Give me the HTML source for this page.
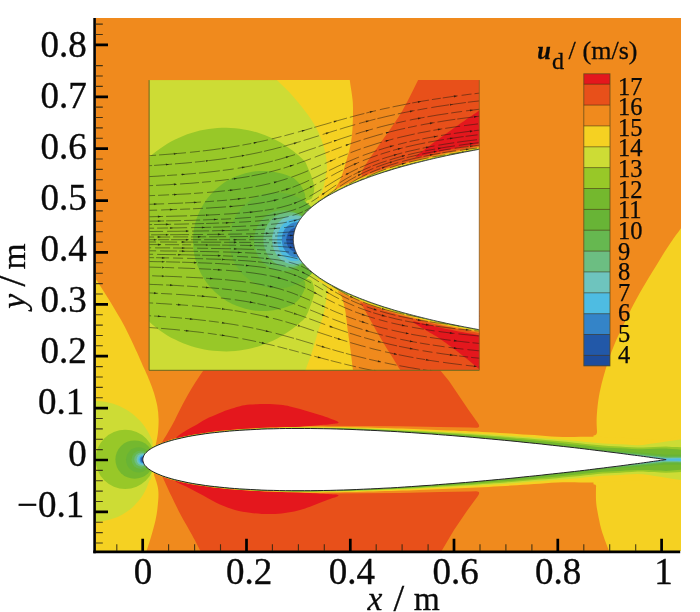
<!DOCTYPE html><html><head><meta charset="utf-8"><title>u_d contour</title><style>html,body{margin:0;padding:0;background:#fff;}body{width:700px;height:612px;overflow:hidden;font-family:"Liberation Serif",serif;}svg{display:block;will-change:transform;}</style></head><body><svg width="700" height="612" viewBox="0 0 700 612"><defs><clipPath id="cpMain"><rect x="95.7" y="18" width="585.3" height="533"/></clipPath><clipPath id="cpIn"><rect x="149.1" y="80.1" width="330.2" height="290.2"/></clipPath></defs><g clip-path="url(#cpMain)">
<rect x="95.7" y="18" width="585.3" height="533" fill="#F08A1D"/>
<path fill="#F5D122" d="M681.5 227.5 C680 229.6 675.3 235.9 672.5 240 C669.7 244.1 667.2 247.7 664.5 252 C661.8 256.3 658.8 261.5 656 266 C653.2 270.5 650.6 274.7 648 279 C645.4 283.3 642.8 287.5 640.3 292 C637.8 296.5 635.1 301.3 632.7 306 C630.3 310.7 627.9 315.7 625.8 320 C623.7 324.3 621.9 328 620 332 C618.1 336 616.5 339.3 614.6 344 C612.7 348.7 610.5 354 608.5 360 C606.5 366 604.2 374 602.6 380 C601 386 599.9 391 599 396 C598.1 401 597.6 405.7 597.2 410 C596.8 414.3 596.6 418.5 596.6 422 C596.6 425.5 596.9 429.5 597 431 Q597.4 435.2 593.5 435.6 L593.5 484.2 Q596.8 484.4 596 487 C596 489.2 595.8 496 596 500 C596.2 504 596.5 506 597.4 511 C598.3 516 599.6 523.3 601.5 530 C603.4 536.7 607.8 547.5 609 551 L681 551 Z"/>
<path fill="#F5D122" d="M95 277.8 C96.8 280.6 101.3 287.3 105.7 294.4 C110.1 301.5 116.6 311.9 121.4 320.6 C126.2 329.3 130.5 338.4 134.4 346.7 C138.3 355 142.4 364.5 145 370.3 C147.6 376.1 148.3 377.7 149.8 381.5 C151.3 385.3 152.8 388.9 154 393 C155.2 397.1 156.5 401.6 157.3 406 C158.1 410.4 158.5 414.8 158.6 419.2 C158.7 423.6 158.4 428.4 158 432.3 C157.6 436.2 156.7 440.4 156.2 442.7 C155.7 445 155.4 445.4 155.2 446 L154 475 C154.6 476.7 156.6 481.7 157.3 485 C158.1 488.3 158.5 490.8 158.5 494.6 C158.5 498.4 158 503.6 157.5 508 C157 512.4 156.5 515.9 155.4 520.7 C154.3 525.5 152.5 531.8 151 537 C149.5 542.2 147 549.5 146.2 552 L95 552 Z"/>
<path fill="#CDDC35" d="M88 401 C89.3 401 93.5 400.9 96 401 C98.5 401.1 99.7 401 103 401.6 C106.3 402.2 111.6 403.2 116 404.8 C120.4 406.4 125.2 408.8 129.2 411.4 C133.1 414 136.6 417.2 139.7 420.5 C142.8 423.8 145.6 427.9 147.5 431 C149.4 434.1 150.5 436.4 151.4 438.8 C152.3 441.2 152.7 439.2 152.7 445.4 C152.7 451.6 152.1 470.1 151.5 476 C150.9 481.9 150.2 478.5 149.4 480.5 C148.6 482.5 147.6 485.6 146.5 488 C145.4 490.4 144.4 492.4 143 494.7 C141.6 496.9 139.8 499.4 138 501.5 C136.2 503.6 134.4 505.7 132.4 507.5 C130.4 509.3 128.1 510.9 126 512.3 C123.9 513.7 121.9 515 119.7 516 C117.5 517 115.1 517.9 113 518.6 C110.9 519.3 109.2 519.7 107 520.2 C104.8 520.7 102 521.1 100 521.4 C98 521.7 97 521.9 95 522 C93 522.1 89.2 522 88 522Z"/>
<circle cx="125.2" cy="459.4" r="29.6" fill="#98C828"/>
<circle cx="134.6" cy="459.6" r="19.2" fill="#74B82E"/>
<circle cx="138.6" cy="459.8" r="12.6" fill="#68B436"/>
<circle cx="140.7" cy="459.8" r="9.2" fill="#66B850"/>
<circle cx="141.4" cy="459.6" r="7.1" fill="#6CBE82"/>
<circle cx="142.6" cy="459.6" r="6" fill="#6EC4BE"/>
<circle cx="143.2" cy="459.6" r="4.9" fill="#4EBCE2"/>
<circle cx="143.5" cy="459.6" r="3.7" fill="#3484C8"/>
<circle cx="143.8" cy="459.6" r="2.8" fill="#2258A8"/>
<path fill="#E8501A" d="M161 444.5 C161.3 443.9 161.1 444 163 440.8 C164.9 437.6 168.9 431.2 172.2 425.1 C175.5 419 179.2 410.7 182.7 404.2 C186.2 397.7 189.7 391.4 193.1 385.9 C196.5 380.3 199.8 375.7 203 370.9 C206.2 366.1 210.5 359.3 212 357 L436 356 L440 370 L449 381 L468.6 410 L477.5 422.5 Q481.5 427.6 476 427.8 L470 427.6 L440 427.1 L400 426.3 L360 425.9 L320 425.8 L280 426.5 L240 428.7 L200 433.2 L170 439.7 Z"/>
<path fill="#E8501A" d="M161.5 474.5 C161.7 475.1 161.2 474.2 162.9 477.8 C164.6 481.4 168.5 490 171.4 496.1 C174.3 502.2 177 507.8 180.5 514.4 C184 520.9 188.9 529.1 192.3 535.4 C195.7 541.7 199.6 549.2 201 552 L441 552 L454 530 L467.6 510 L477.5 496.5 Q481.5 491.4 476 491.2 L470 491.6 L440 492.1 L400 492.9 L360 493.3 L320 493.4 L280 492.7 L240 490.5 L200 486 L170 479.5 Z"/>
<path fill="#E4171D" d="M176 437.5 C177.7 436.3 182.5 432.7 186 430.5 C189.5 428.3 193.2 426.5 197 424.4 C200.8 422.2 204.8 419.7 209 417.6 C213.2 415.5 218.5 413.4 222.3 411.9 C226.1 410.4 229.1 409.6 232 408.6 C234.9 407.7 237 406.9 240 406.2 C243 405.5 245.7 405 250 404.6 C254.3 404.2 261 404 266 404 C271 404 276 404.4 280 404.8 C284 405.2 286.7 405.7 290 406.4 C293.3 407.1 296.7 408.1 300 409 C303.3 409.9 306.7 411 310 412 C313.3 413 316.7 413.9 320 415 C323.3 416.1 327.3 417.4 330 418.4 C332.7 419.4 334.6 420.1 336 420.8 C337.4 421.5 338.6 421.9 338.6 422.4 C338.6 422.9 337.4 423.3 336 423.6 C334.6 423.9 334.3 423.8 330 424.2 C325.7 424.6 316.7 425.5 310 426 C303.3 426.5 296.7 426.8 290 427.2 C283.3 427.6 276.7 427.9 270 428.4 C263.3 428.9 257.5 429.2 250 430 C242.5 430.8 233.3 431.7 225 433 C216.7 434.3 206.7 436.7 200 438 C193.3 439.3 187.5 440.5 185 441Z"/>
<path fill="#E4171D" d="M171 478.6 C172.1 479.2 175 481.1 177.3 482.4 C179.6 483.6 182.5 484.9 185 486.1 C187.5 487.3 188.9 488 192.3 489.8 C195.7 491.6 200.8 494.3 205.4 496.8 C210 499.3 215.1 502.4 220 504.6 C224.9 506.8 230 508.6 235 510 C240 511.4 245.5 512.1 250 512.8 C254.5 513.4 257.8 513.7 262 513.9 C266.2 514.1 270.7 514.2 275 514 C279.3 513.8 283.8 513.3 288 512.6 C292.2 511.9 296.3 511 300 510 C303.7 509 306.7 508 310 506.8 C313.3 505.6 316.7 504.1 320 502.8 C323.3 501.5 327.3 500 330 499 C332.7 498 334.6 497.6 336 497 C337.4 496.4 338.6 496 338.6 495.6 C338.6 495.2 337.4 494.8 336 494.6 C334.6 494.4 334.3 494.5 330 494.2 C325.7 493.9 316.7 493.4 310 493 C303.3 492.6 296.7 492.4 290 492 C283.3 491.6 276.7 491.3 270 490.8 C263.3 490.3 257.5 490 250 489.2 C242.5 488.4 233.3 487.5 225 486.2 C216.7 484.9 206.7 482.5 200 481.2 C193.3 479.9 187.5 478.7 185 478.2Z"/>
<path fill="#F5D122" d="M150 448.6 L155.7 445.4 L161.5 442.9 L167.2 440.9 L172.9 439.2 L178.7 437.8 L184.4 436.5 L190.1 435.3 L195.9 434.3 L201.6 433.4 L207.3 432.6 L213.1 431.8 L218.8 431.1 L224.5 430.5 L230.3 430 L236 429.5 L241.7 429.1 L247.5 428.7 L253.2 428.4 L258.9 428.1 L264.7 427.8 L270.4 427.6 L276.1 427.4 L281.9 427.2 L287.6 427 L293.3 426.9 L299.1 426.9 L304.8 426.8 L310.5 426.8 L316.3 426.8 L322 426.8 L327.7 426.9 L333.5 427 L339.2 427 L344.9 427.1 L350.7 427.2 L356.4 427.3 L362.1 427.4 L367.9 427.6 L373.6 427.7 L379.3 427.9 L385.1 428.1 L390.8 428.2 L396.5 428.4 L402.3 428.6 L408 428.8 L413.7 429 L419.5 429.3 L425.2 429.5 L430.9 429.7 L436.7 429.9 L442.4 430.2 L448.1 430.4 L453.9 430.6 L459.6 430.9 L465.3 431.1 L471.1 431.4 L476.8 431.6 L482.5 431.9 L488.3 432.3 L494 432.6 L499.7 432.9 L505.5 433.3 L511.2 433.6 L516.9 434 L522.7 434.4 L528.4 434.7 L534.1 435.1 L539.9 435.5 L545.6 435.9 L551.3 436.4 L557.1 436.8 L562.8 437 L568.5 436.9 L574.3 436.9 L580 436.8 L585.7 436.8 L591.5 436.8 L597.2 436.8 L602.9 436.9 L608.7 437.2 L614.4 437.5 L620.1 437.8 L625.9 438.1 L631.6 438.5 L637.3 438.8 L643.1 439.1 L648.8 439.5 L654.5 439.8 L660.3 440.2 L666 440.6 L672 438.7 L677 437.1 L681.5 435.6 L681.5 483.8 L677 482.3 L672 480.7 L666 478.8 L660.3 479 L654.5 479.4 L648.8 479.7 L643.1 480.1 L637.3 480.4 L631.6 480.7 L625.9 481.1 L620.1 481.4 L614.4 481.7 L608.7 482 L602.9 482.3 L597.2 482.4 L591.5 482.4 L585.7 482.4 L580 482.4 L574.3 482.3 L568.5 482.3 L562.8 482.2 L557.1 482.4 L551.3 482.8 L545.6 483.3 L539.9 483.7 L534.1 484.1 L528.4 484.5 L522.7 484.8 L516.9 485.2 L511.2 485.6 L505.5 485.9 L499.7 486.3 L494 486.6 L488.3 486.9 L482.5 487.3 L476.8 487.6 L471.1 487.8 L465.3 488.1 L459.6 488.3 L453.9 488.6 L448.1 488.8 L442.4 489 L436.7 489.3 L430.9 489.5 L425.2 489.7 L419.5 489.9 L413.7 490.2 L408 490.4 L402.3 490.6 L396.5 490.8 L390.8 491 L385.1 491.1 L379.3 491.3 L373.6 491.5 L367.9 491.6 L362.1 491.8 L356.4 491.9 L350.7 492 L344.9 492.1 L339.2 492.2 L333.5 492.2 L327.7 492.3 L322 492.4 L316.3 492.4 L310.5 492.4 L304.8 492.4 L299.1 492.3 L293.3 492.3 L287.6 492.2 L281.9 492 L276.1 491.8 L270.4 491.6 L264.7 491.4 L258.9 491.1 L253.2 490.8 L247.5 490.5 L241.7 490.1 L236 489.7 L230.3 489.2 L224.5 488.7 L218.8 488.1 L213.1 487.4 L207.3 486.6 L201.6 485.8 L195.9 484.9 L190.1 483.9 L184.4 482.7 L178.7 481.4 L172.9 480 L167.2 478.3 L161.5 476.3 L155.7 473.8 L150 470.6Z"/>
<path fill="#CDDC35" d="M150 448.9 L155.7 445.6 L161.5 443.2 L167.2 441.2 L172.9 439.5 L178.7 438.1 L184.4 436.8 L190.1 435.6 L195.9 434.6 L201.6 433.7 L207.3 432.9 L213.1 432.2 L218.8 431.5 L224.5 430.9 L230.3 430.4 L236 429.9 L241.7 429.5 L247.5 429.1 L253.2 428.8 L258.9 428.5 L264.7 428.2 L270.4 428 L276.1 427.9 L281.9 427.7 L287.6 427.6 L293.3 427.5 L299.1 427.5 L304.8 427.4 L310.5 427.4 L316.3 427.5 L322 427.5 L327.7 427.6 L333.5 427.7 L339.2 427.8 L344.9 427.9 L350.7 428 L356.4 428.2 L362.1 428.3 L367.9 428.5 L373.6 428.7 L379.3 428.9 L385.1 429.1 L390.8 429.3 L396.5 429.6 L402.3 429.8 L408 430 L413.7 430.3 L419.5 430.6 L425.2 430.9 L430.9 431.2 L436.7 431.4 L442.4 431.7 L448.1 432 L453.9 432.3 L459.6 432.6 L465.3 432.9 L471.1 433.2 L476.8 433.5 L482.5 433.9 L488.3 434.2 L494 434.6 L499.7 435 L505.5 435.4 L511.2 435.8 L516.9 436.3 L522.7 436.7 L528.4 437.1 L534.1 437.6 L539.9 438 L545.6 438.4 L551.3 438.9 L557.1 439.4 L562.8 439.8 L568.5 440.3 L574.3 440.8 L580 441.3 L585.7 441.9 L591.5 442.4 L597.2 442.9 L602.9 443.4 L608.7 443.7 L614.4 444 L620.1 444.3 L625.9 444.6 L631.6 445 L637.3 445.3 L643.1 445 L648.8 444.1 L654.5 443.3 L660.3 442.4 L666 441.6 L672 440.7 L677 440 L681.5 439.3 L681.5 480.1 L677 479.4 L672 478.7 L666 477.8 L660.3 476.8 L654.5 475.9 L648.8 475.1 L643.1 474.2 L637.3 473.9 L631.6 474.2 L625.9 474.6 L620.1 474.9 L614.4 475.2 L608.7 475.5 L602.9 475.8 L597.2 476.3 L591.5 476.8 L585.7 477.3 L580 477.9 L574.3 478.4 L568.5 478.9 L562.8 479.4 L557.1 479.8 L551.3 480.3 L545.6 480.8 L539.9 481.2 L534.1 481.6 L528.4 482.1 L522.7 482.5 L516.9 482.9 L511.2 483.4 L505.5 483.8 L499.7 484.2 L494 484.6 L488.3 485 L482.5 485.3 L476.8 485.7 L471.1 486 L465.3 486.3 L459.6 486.6 L453.9 486.9 L448.1 487.2 L442.4 487.5 L436.7 487.8 L430.9 488 L425.2 488.3 L419.5 488.6 L413.7 488.9 L408 489.2 L402.3 489.4 L396.5 489.6 L390.8 489.9 L385.1 490.1 L379.3 490.3 L373.6 490.5 L367.9 490.7 L362.1 490.9 L356.4 491 L350.7 491.2 L344.9 491.3 L339.2 491.4 L333.5 491.5 L327.7 491.6 L322 491.7 L316.3 491.7 L310.5 491.8 L304.8 491.8 L299.1 491.7 L293.3 491.7 L287.6 491.6 L281.9 491.5 L276.1 491.3 L270.4 491.2 L264.7 491 L258.9 490.7 L253.2 490.4 L247.5 490.1 L241.7 489.7 L236 489.3 L230.3 488.8 L224.5 488.3 L218.8 487.7 L213.1 487 L207.3 486.3 L201.6 485.5 L195.9 484.6 L190.1 483.6 L184.4 482.4 L178.7 481.1 L172.9 479.7 L167.2 478 L161.5 476 L155.7 473.6 L150 470.3Z"/>
<path fill="#98C828" d="M150 449 L155.7 445.8 L161.5 443.4 L167.2 441.4 L172.9 439.7 L178.7 438.2 L184.4 436.9 L190.1 435.8 L195.9 434.8 L201.6 433.9 L207.3 433.1 L213.1 432.3 L218.8 431.7 L224.5 431.1 L230.3 430.6 L236 430.1 L241.7 429.7 L247.5 429.3 L253.2 429 L258.9 428.7 L264.7 428.5 L270.4 428.3 L276.1 428.1 L281.9 428 L287.6 427.9 L293.3 427.8 L299.1 427.7 L304.8 427.7 L310.5 427.7 L316.3 427.8 L322 427.9 L327.7 427.9 L333.5 428 L339.2 428.1 L344.9 428.3 L350.7 428.4 L356.4 428.6 L362.1 428.8 L367.9 429 L373.6 429.2 L379.3 429.4 L385.1 429.7 L390.8 429.9 L396.5 430.2 L402.3 430.4 L408 430.7 L413.7 431 L419.5 431.3 L425.2 431.6 L430.9 432 L436.7 432.3 L442.4 432.6 L448.1 432.9 L453.9 433.2 L459.6 433.6 L465.3 433.9 L471.1 434.3 L476.8 434.7 L482.5 435.1 L488.3 435.5 L494 435.9 L499.7 436.3 L505.5 436.8 L511.2 437.2 L516.9 437.7 L522.7 438.1 L528.4 438.6 L534.1 439.1 L539.9 439.6 L545.6 440 L551.3 440.5 L557.1 441 L562.8 441.6 L568.5 442.1 L574.3 442.7 L580 443.3 L585.7 443.9 L591.5 444.5 L597.2 445.1 L602.9 445.6 L608.7 445.9 L614.4 446.2 L620.1 446.5 L625.9 446.9 L631.6 447.2 L637.3 447.6 L643.1 447.6 L648.8 447.3 L654.5 447.1 L660.3 446.8 L666 446.6 L672 446.9 L677 447.1 L681.5 447.3 L681.5 472.1 L677 472.3 L672 472.5 L666 472.8 L660.3 472.4 L654.5 472.1 L648.8 471.9 L643.1 471.6 L637.3 471.6 L631.6 472 L625.9 472.3 L620.1 472.7 L614.4 473 L608.7 473.3 L602.9 473.6 L597.2 474.1 L591.5 474.7 L585.7 475.3 L580 475.9 L574.3 476.5 L568.5 477.1 L562.8 477.6 L557.1 478.2 L551.3 478.7 L545.6 479.2 L539.9 479.6 L534.1 480.1 L528.4 480.6 L522.7 481.1 L516.9 481.5 L511.2 482 L505.5 482.4 L499.7 482.9 L494 483.3 L488.3 483.7 L482.5 484.1 L476.8 484.5 L471.1 484.9 L465.3 485.3 L459.6 485.6 L453.9 486 L448.1 486.3 L442.4 486.6 L436.7 486.9 L430.9 487.2 L425.2 487.6 L419.5 487.9 L413.7 488.2 L408 488.5 L402.3 488.8 L396.5 489 L390.8 489.3 L385.1 489.5 L379.3 489.8 L373.6 490 L367.9 490.2 L362.1 490.4 L356.4 490.6 L350.7 490.8 L344.9 490.9 L339.2 491.1 L333.5 491.2 L327.7 491.3 L322 491.3 L316.3 491.4 L310.5 491.5 L304.8 491.5 L299.1 491.5 L293.3 491.4 L287.6 491.3 L281.9 491.2 L276.1 491.1 L270.4 490.9 L264.7 490.7 L258.9 490.5 L253.2 490.2 L247.5 489.9 L241.7 489.5 L236 489.1 L230.3 488.6 L224.5 488.1 L218.8 487.5 L213.1 486.9 L207.3 486.1 L201.6 485.3 L195.9 484.4 L190.1 483.4 L184.4 482.3 L178.7 481 L172.9 479.5 L167.2 477.8 L161.5 475.8 L155.7 473.4 L150 470.2Z"/>
<path fill="#74B82E" d="M150 449.1 L155.7 445.9 L161.5 443.5 L167.2 441.5 L172.9 439.8 L178.7 438.3 L184.4 437.1 L190.1 435.9 L195.9 434.9 L201.6 434 L207.3 433.2 L213.1 432.5 L218.8 431.8 L224.5 431.2 L230.3 430.7 L236 430.3 L241.7 429.8 L247.5 429.5 L253.2 429.2 L258.9 428.9 L264.7 428.6 L270.4 428.4 L276.1 428.3 L281.9 428.2 L287.6 428.1 L293.3 428 L299.1 428 L304.8 428 L310.5 428 L316.3 428 L322 428.1 L327.7 428.2 L333.5 428.3 L339.2 428.4 L344.9 428.6 L350.7 428.7 L356.4 428.9 L362.1 429.1 L367.9 429.3 L373.6 429.6 L379.3 429.8 L385.1 430.1 L390.8 430.4 L396.5 430.7 L402.3 431 L408 431.3 L413.7 431.6 L419.5 431.9 L425.2 432.3 L430.9 432.7 L436.7 433 L442.4 433.4 L448.1 433.8 L453.9 434.1 L459.6 434.5 L465.3 434.9 L471.1 435.3 L476.8 435.8 L482.5 436.2 L488.3 436.6 L494 437.1 L499.7 437.6 L505.5 438 L511.2 438.5 L516.9 439 L522.7 439.5 L528.4 440 L534.1 440.5 L539.9 441.1 L545.6 441.6 L551.3 442.1 L557.1 442.7 L562.8 443.3 L568.5 443.9 L574.3 444.4 L580 445 L585.7 445.6 L591.5 446.3 L597.2 446.9 L602.9 447.4 L608.7 447.7 L614.4 448 L620.1 448.3 L625.9 448.6 L631.6 449 L637.3 449.3 L643.1 449.3 L648.8 449.1 L654.5 448.8 L660.3 448.6 L666 448.4 L672 448.9 L677 449.3 L681.5 449.7 L681.5 469.7 L677 470.1 L672 470.5 L666 471 L660.3 470.6 L654.5 470.4 L648.8 470.1 L643.1 469.9 L637.3 469.9 L631.6 470.2 L625.9 470.6 L620.1 470.9 L614.4 471.2 L608.7 471.5 L602.9 471.8 L597.2 472.3 L591.5 472.9 L585.7 473.6 L580 474.2 L574.3 474.8 L568.5 475.3 L562.8 475.9 L557.1 476.5 L551.3 477.1 L545.6 477.6 L539.9 478.1 L534.1 478.7 L528.4 479.2 L522.7 479.7 L516.9 480.2 L511.2 480.7 L505.5 481.2 L499.7 481.6 L494 482.1 L488.3 482.6 L482.5 483 L476.8 483.4 L471.1 483.9 L465.3 484.3 L459.6 484.7 L453.9 485.1 L448.1 485.4 L442.4 485.8 L436.7 486.2 L430.9 486.5 L425.2 486.9 L419.5 487.3 L413.7 487.6 L408 487.9 L402.3 488.2 L396.5 488.5 L390.8 488.8 L385.1 489.1 L379.3 489.4 L373.6 489.6 L367.9 489.9 L362.1 490.1 L356.4 490.3 L350.7 490.5 L344.9 490.6 L339.2 490.8 L333.5 490.9 L327.7 491 L322 491.1 L316.3 491.2 L310.5 491.2 L304.8 491.2 L299.1 491.2 L293.3 491.2 L287.6 491.1 L281.9 491 L276.1 490.9 L270.4 490.8 L264.7 490.6 L258.9 490.3 L253.2 490 L247.5 489.7 L241.7 489.4 L236 488.9 L230.3 488.5 L224.5 488 L218.8 487.4 L213.1 486.7 L207.3 486 L201.6 485.2 L195.9 484.3 L190.1 483.3 L184.4 482.1 L178.7 480.9 L172.9 479.4 L167.2 477.7 L161.5 475.7 L155.7 473.3 L150 470.1Z"/>
<path fill="#68B436" d="M480 438 L482.1 438.2 L484.1 438.3 L486.2 438.5 L488.3 438.7 L490.3 438.8 L492.4 439 L494.5 439.2 L496.5 439.4 L498.6 439.5 L500.7 439.7 L502.7 439.9 L504.8 440.1 L506.9 440.3 L508.9 440.4 L511 440.6 L513.1 440.8 L515.1 441 L517.2 441.2 L519.3 441.4 L521.3 441.6 L523.4 441.7 L525.5 441.9 L527.5 442.1 L529.6 442.3 L531.7 442.5 L533.7 442.7 L535.8 442.9 L537.9 443.1 L539.9 443.2 L542 443.4 L544.1 443.6 L546.1 443.8 L548.2 444 L550.3 444.2 L552.3 444.4 L554.4 444.6 L556.5 444.8 L558.5 445 L560.6 445.2 L562.7 445.4 L564.7 445.6 L566.8 445.8 L568.9 446 L570.9 446.2 L573 446.4 L575.1 446.6 L577.1 446.8 L579.2 447 L581.3 447.2 L583.3 447.4 L585.4 447.6 L587.5 447.9 L589.5 448.1 L591.6 448.3 L593.7 448.5 L595.7 448.7 L597.8 449 L599.9 449.2 L601.9 449.4 L604 449.5 L606.1 449.7 L608.1 449.9 L610.2 450.1 L612.3 450.2 L614.3 450.4 L616.4 450.6 L618.5 450.8 L620.5 451 L622.6 451.1 L624.7 451.3 L626.7 451.5 L628.8 451.6 L630.9 451.8 L632.9 452 L635 452.1 L637.1 452.3 L639.1 452.5 L641.2 452.6 L643.3 452.8 L645.3 453 L647.4 453.1 L649.5 453.3 L651.5 453.4 L653.6 453.6 L655.7 453.8 L657.7 453.9 L659.8 454.1 L661.9 454.2 L663.9 454.4 L666 454.6 L672 454.6 L677 454.6 L681.5 454.6 L681.5 464.8 L677 464.8 L672 464.8 L666 464.8 L663.9 464.8 L661.9 465 L659.8 465.1 L657.7 465.3 L655.7 465.4 L653.6 465.6 L651.5 465.8 L649.5 465.9 L647.4 466.1 L645.3 466.2 L643.3 466.4 L641.2 466.6 L639.1 466.7 L637.1 466.9 L635 467.1 L632.9 467.2 L630.9 467.4 L628.8 467.6 L626.7 467.7 L624.7 467.9 L622.6 468.1 L620.5 468.2 L618.5 468.4 L616.4 468.6 L614.3 468.8 L612.3 469 L610.2 469.1 L608.1 469.3 L606.1 469.5 L604 469.7 L601.9 469.8 L599.9 470 L597.8 470.2 L595.7 470.5 L593.7 470.7 L591.6 470.9 L589.5 471.1 L587.5 471.3 L585.4 471.6 L583.3 471.8 L581.3 472 L579.2 472.2 L577.1 472.4 L575.1 472.6 L573 472.8 L570.9 473 L568.9 473.2 L566.8 473.4 L564.7 473.6 L562.7 473.8 L560.6 474 L558.5 474.2 L556.5 474.4 L554.4 474.6 L552.3 474.8 L550.3 475 L548.2 475.2 L546.1 475.4 L544.1 475.6 L542 475.8 L539.9 476 L537.9 476.1 L535.8 476.3 L533.7 476.5 L531.7 476.7 L529.6 476.9 L527.5 477.1 L525.5 477.3 L523.4 477.5 L521.3 477.6 L519.3 477.8 L517.2 478 L515.1 478.2 L513.1 478.4 L511 478.6 L508.9 478.8 L506.9 478.9 L504.8 479.1 L502.7 479.3 L500.7 479.5 L498.6 479.7 L496.5 479.8 L494.5 480 L492.4 480.2 L490.3 480.4 L488.3 480.5 L486.2 480.7 L484.1 480.9 L482.1 481 L480 481.2Z"/>
<path fill="#66B850" d="M560 446.1 L561.2 446.2 L562.4 446.3 L563.5 446.4 L564.7 446.6 L565.9 446.7 L567.1 446.8 L568.2 446.9 L569.4 447 L570.6 447.1 L571.8 447.3 L573 447.4 L574.1 447.5 L575.3 447.6 L576.5 447.7 L577.7 447.9 L578.8 448 L580 448.1 L581.2 448.2 L582.4 448.3 L583.6 448.5 L584.7 448.6 L585.9 448.7 L587.1 448.8 L588.3 448.9 L589.4 449.1 L590.6 449.2 L591.8 449.3 L593 449.4 L594.2 449.6 L595.3 449.7 L596.5 449.8 L597.7 449.9 L598.9 450.1 L600 450.2 L601.2 450.3 L602.4 450.4 L603.6 450.5 L604.8 450.6 L605.9 450.7 L607.1 450.8 L608.3 450.9 L609.5 451 L610.6 451.1 L611.8 451.3 L613 451.4 L614.2 451.5 L615.4 451.6 L616.5 451.7 L617.7 451.8 L618.9 451.9 L620.1 452 L621.2 452.1 L622.4 452.2 L623.6 452.3 L624.8 452.4 L626 452.5 L627.1 452.6 L628.3 452.7 L629.5 452.8 L630.7 452.9 L631.8 453 L633 453.1 L634.2 453.2 L635.4 453.3 L636.6 453.4 L637.7 453.6 L638.9 453.7 L640.1 453.8 L641.3 453.9 L642.4 454 L643.6 454.1 L644.8 454.2 L646 454.3 L647.2 454.5 L648.3 454.6 L649.5 454.7 L650.7 454.8 L651.9 454.9 L653 455 L654.2 455.2 L655.4 455.3 L656.6 455.4 L657.8 455.5 L658.9 455.6 L660.1 455.8 L661.3 455.9 L662.5 456 L663.6 456.1 L664.8 456.3 L666 456.4 L672 456.3 L677 456.3 L681.5 456.2 L681.5 463.2 L677 463.1 L672 463.1 L666 463 L664.8 463 L663.6 463.1 L662.5 463.2 L661.3 463.3 L660.1 463.4 L658.9 463.6 L657.8 463.7 L656.6 463.8 L655.4 463.9 L654.2 464 L653 464.2 L651.9 464.3 L650.7 464.4 L649.5 464.5 L648.3 464.6 L647.2 464.7 L646 464.9 L644.8 465 L643.6 465.1 L642.4 465.2 L641.3 465.3 L640.1 465.4 L638.9 465.5 L637.7 465.6 L636.6 465.8 L635.4 465.9 L634.2 466 L633 466.1 L631.8 466.2 L630.7 466.3 L629.5 466.4 L628.3 466.5 L627.1 466.6 L626 466.7 L624.8 466.8 L623.6 466.9 L622.4 467 L621.2 467.1 L620.1 467.2 L618.9 467.3 L617.7 467.4 L616.5 467.5 L615.4 467.6 L614.2 467.7 L613 467.8 L611.8 467.9 L610.6 468.1 L609.5 468.2 L608.3 468.3 L607.1 468.4 L605.9 468.5 L604.8 468.6 L603.6 468.7 L602.4 468.8 L601.2 468.9 L600 469 L598.9 469.1 L597.7 469.3 L596.5 469.4 L595.3 469.5 L594.2 469.6 L593 469.8 L591.8 469.9 L590.6 470 L589.4 470.1 L588.3 470.3 L587.1 470.4 L585.9 470.5 L584.7 470.6 L583.6 470.7 L582.4 470.9 L581.2 471 L580 471.1 L578.8 471.2 L577.7 471.3 L576.5 471.5 L575.3 471.6 L574.1 471.7 L573 471.8 L571.8 471.9 L570.6 472.1 L569.4 472.2 L568.2 472.3 L567.1 472.4 L565.9 472.5 L564.7 472.6 L563.5 472.8 L562.4 472.9 L561.2 473 L560 473.1Z"/>
<path fill="#6CBE82" d="M600 450.8 L600.7 450.9 L601.5 450.9 L602.2 451 L602.9 451.1 L603.7 451.2 L604.4 451.3 L605.1 451.3 L605.9 451.4 L606.6 451.5 L607.3 451.6 L608.1 451.6 L608.8 451.7 L609.5 451.8 L610.3 451.9 L611 451.9 L611.7 452 L612.5 452.1 L613.2 452.2 L613.9 452.3 L614.7 452.3 L615.4 452.4 L616.1 452.5 L616.9 452.6 L617.6 452.7 L618.3 452.7 L619.1 452.8 L619.8 452.9 L620.5 453 L621.3 453 L622 453.1 L622.7 453.2 L623.5 453.2 L624.2 453.3 L624.9 453.4 L625.7 453.4 L626.4 453.5 L627.1 453.6 L627.9 453.6 L628.6 453.7 L629.3 453.8 L630.1 453.8 L630.8 453.9 L631.5 454 L632.3 454 L633 454.1 L633.7 454.2 L634.5 454.2 L635.2 454.3 L635.9 454.4 L636.7 454.4 L637.4 454.5 L638.1 454.6 L638.9 454.6 L639.6 454.7 L640.3 454.8 L641.1 454.9 L641.8 454.9 L642.5 455 L643.3 455.1 L644 455.1 L644.7 455.2 L645.5 455.3 L646.2 455.4 L646.9 455.4 L647.7 455.5 L648.4 455.6 L649.1 455.7 L649.9 455.7 L650.6 455.8 L651.3 455.9 L652.1 455.9 L652.8 456 L653.5 456.1 L654.3 456.2 L655 456.2 L655.7 456.3 L656.5 456.4 L657.2 456.5 L657.9 456.5 L658.7 456.6 L659.4 456.7 L660.1 456.8 L660.9 456.8 L661.6 456.9 L662.3 457 L663.1 457.1 L663.8 457.2 L664.5 457.2 L665.3 457.3 L666 457.4 L672 457.3 L677 457.3 L681.5 457.2 L681.5 462.2 L677 462.1 L672 462.1 L666 462 L665.3 462 L664.5 462 L663.8 462 L663.1 462.1 L662.3 462.2 L661.6 462.3 L660.9 462.4 L660.1 462.4 L659.4 462.5 L658.7 462.6 L657.9 462.7 L657.2 462.7 L656.5 462.8 L655.7 462.9 L655 463 L654.3 463 L653.5 463.1 L652.8 463.2 L652.1 463.3 L651.3 463.3 L650.6 463.4 L649.9 463.5 L649.1 463.5 L648.4 463.6 L647.7 463.7 L646.9 463.8 L646.2 463.8 L645.5 463.9 L644.7 464 L644 464.1 L643.3 464.1 L642.5 464.2 L641.8 464.3 L641.1 464.3 L640.3 464.4 L639.6 464.5 L638.9 464.6 L638.1 464.6 L637.4 464.7 L636.7 464.8 L635.9 464.8 L635.2 464.9 L634.5 465 L633.7 465 L633 465.1 L632.3 465.2 L631.5 465.2 L630.8 465.3 L630.1 465.4 L629.3 465.4 L628.6 465.5 L627.9 465.6 L627.1 465.6 L626.4 465.7 L625.7 465.8 L624.9 465.8 L624.2 465.9 L623.5 466 L622.7 466 L622 466.1 L621.3 466.2 L620.5 466.2 L619.8 466.3 L619.1 466.4 L618.3 466.5 L617.6 466.5 L616.9 466.6 L616.1 466.7 L615.4 466.8 L614.7 466.9 L613.9 466.9 L613.2 467 L612.5 467.1 L611.7 467.2 L611 467.3 L610.3 467.3 L609.5 467.4 L608.8 467.5 L608.1 467.6 L607.3 467.6 L606.6 467.7 L605.9 467.8 L605.1 467.9 L604.4 467.9 L603.7 468 L602.9 468.1 L602.2 468.2 L601.5 468.3 L600.7 468.3 L600 468.4Z"/>
<path fill="#6EC4BE" d="M620 453.3 L620.5 453.4 L621 453.4 L621.5 453.5 L622 453.5 L622.6 453.6 L623.1 453.6 L623.6 453.7 L624.1 453.7 L624.6 453.8 L625.1 453.8 L625.6 453.9 L626.1 454 L626.6 454 L627.2 454.1 L627.7 454.1 L628.2 454.2 L628.7 454.2 L629.2 454.3 L629.7 454.3 L630.2 454.4 L630.7 454.4 L631.2 454.5 L631.8 454.6 L632.3 454.6 L632.8 454.7 L633.3 454.7 L633.8 454.8 L634.3 454.8 L634.8 454.9 L635.3 454.9 L635.8 455 L636.4 455.1 L636.9 455.1 L637.4 455.2 L637.9 455.2 L638.4 455.3 L638.9 455.3 L639.4 455.4 L639.9 455.4 L640.4 455.5 L641 455.6 L641.5 455.6 L642 455.7 L642.5 455.7 L643 455.8 L643.5 455.8 L644 455.9 L644.5 455.9 L645 456 L645.6 456 L646.1 456.1 L646.6 456.1 L647.1 456.2 L647.6 456.2 L648.1 456.3 L648.6 456.3 L649.1 456.4 L649.6 456.4 L650.2 456.5 L650.7 456.5 L651.2 456.6 L651.7 456.7 L652.2 456.7 L652.7 456.8 L653.2 456.8 L653.7 456.9 L654.2 456.9 L654.8 457 L655.3 457 L655.8 457.1 L656.3 457.1 L656.8 457.2 L657.3 457.2 L657.8 457.3 L658.3 457.4 L658.8 457.4 L659.4 457.5 L659.9 457.5 L660.4 457.6 L660.9 457.6 L661.4 457.7 L661.9 457.7 L662.4 457.8 L662.9 457.9 L663.4 457.9 L664 458 L664.5 458 L665 458.1 L665.5 458.1 L666 458.2 L672 458.1 L677 458.1 L681.5 458 L681.5 461.4 L677 461.3 L672 461.3 L666 461.2 L665.5 461.2 L665 461.2 L664.5 461.2 L664 461.2 L663.4 461.3 L662.9 461.3 L662.4 461.4 L661.9 461.5 L661.4 461.5 L660.9 461.6 L660.4 461.6 L659.9 461.7 L659.4 461.7 L658.8 461.8 L658.3 461.8 L657.8 461.9 L657.3 462 L656.8 462 L656.3 462.1 L655.8 462.1 L655.3 462.2 L654.8 462.2 L654.2 462.3 L653.7 462.3 L653.2 462.4 L652.7 462.4 L652.2 462.5 L651.7 462.5 L651.2 462.6 L650.7 462.7 L650.2 462.7 L649.6 462.8 L649.1 462.8 L648.6 462.9 L648.1 462.9 L647.6 463 L647.1 463 L646.6 463.1 L646.1 463.1 L645.6 463.2 L645 463.2 L644.5 463.3 L644 463.3 L643.5 463.4 L643 463.4 L642.5 463.5 L642 463.5 L641.5 463.6 L641 463.6 L640.4 463.7 L639.9 463.8 L639.4 463.8 L638.9 463.9 L638.4 463.9 L637.9 464 L637.4 464 L636.9 464.1 L636.4 464.1 L635.8 464.2 L635.3 464.3 L634.8 464.3 L634.3 464.4 L633.8 464.4 L633.3 464.5 L632.8 464.5 L632.3 464.6 L631.8 464.6 L631.2 464.7 L630.7 464.8 L630.2 464.8 L629.7 464.9 L629.2 464.9 L628.7 465 L628.2 465 L627.7 465.1 L627.2 465.1 L626.6 465.2 L626.1 465.2 L625.6 465.3 L625.1 465.4 L624.6 465.4 L624.1 465.5 L623.6 465.5 L623.1 465.6 L622.6 465.6 L622 465.7 L621.5 465.7 L621 465.8 L620.5 465.8 L620 465.9Z"/>
<path fill="#4EBCE2" d="M620 453.3 L620.5 453.4 L621 453.4 L621.5 453.5 L622 453.6 L622.6 453.6 L623.1 453.7 L623.6 453.8 L624.1 453.8 L624.6 453.9 L625.1 454 L625.6 454 L626.1 454.1 L626.6 454.1 L627.2 454.2 L627.7 454.3 L628.2 454.3 L628.7 454.4 L629.2 454.5 L629.7 454.5 L630.2 454.6 L630.7 454.7 L631.2 454.7 L631.8 454.8 L632.3 454.9 L632.8 454.9 L633.3 455 L633.8 455.1 L634.3 455.1 L634.8 455.2 L635.3 455.3 L635.8 455.3 L636.4 455.4 L636.9 455.4 L637.4 455.5 L637.9 455.6 L638.4 455.6 L638.9 455.7 L639.4 455.8 L639.9 455.8 L640.4 455.9 L641 456 L641.5 456 L642 456.1 L642.5 456.1 L643 456.2 L643.5 456.2 L644 456.3 L644.5 456.4 L645 456.4 L645.6 456.5 L646.1 456.5 L646.6 456.6 L647.1 456.6 L647.6 456.7 L648.1 456.7 L648.6 456.8 L649.1 456.9 L649.6 456.9 L650.2 457 L650.7 457 L651.2 457.1 L651.7 457.1 L652.2 457.2 L652.7 457.3 L653.2 457.3 L653.7 457.4 L654.2 457.4 L654.8 457.5 L655.3 457.5 L655.8 457.6 L656.3 457.7 L656.8 457.7 L657.3 457.8 L657.8 457.8 L658.3 457.9 L658.8 458 L659.4 458 L659.9 458.1 L660.4 458.1 L660.9 458.2 L661.4 458.3 L661.9 458.3 L662.4 458.4 L662.9 458.4 L663.4 458.5 L664 458.5 L664.5 458.6 L665 458.7 L665.5 458.7 L666 458.8 L672 458.7 L677 458.6 L681.5 458.5 L681.5 460.9 L677 460.8 L672 460.7 L666 460.6 L665.5 460.6 L665 460.6 L664.5 460.6 L664 460.7 L663.4 460.7 L662.9 460.8 L662.4 460.8 L661.9 460.9 L661.4 460.9 L660.9 461 L660.4 461.1 L659.9 461.1 L659.4 461.2 L658.8 461.2 L658.3 461.3 L657.8 461.4 L657.3 461.4 L656.8 461.5 L656.3 461.5 L655.8 461.6 L655.3 461.7 L654.8 461.7 L654.2 461.8 L653.7 461.8 L653.2 461.9 L652.7 461.9 L652.2 462 L651.7 462.1 L651.2 462.1 L650.7 462.2 L650.2 462.2 L649.6 462.3 L649.1 462.3 L648.6 462.4 L648.1 462.5 L647.6 462.5 L647.1 462.6 L646.6 462.6 L646.1 462.7 L645.6 462.7 L645 462.8 L644.5 462.8 L644 462.9 L643.5 463 L643 463 L642.5 463.1 L642 463.1 L641.5 463.2 L641 463.2 L640.4 463.3 L639.9 463.4 L639.4 463.4 L638.9 463.5 L638.4 463.6 L637.9 463.6 L637.4 463.7 L636.9 463.8 L636.4 463.8 L635.8 463.9 L635.3 463.9 L634.8 464 L634.3 464.1 L633.8 464.1 L633.3 464.2 L632.8 464.3 L632.3 464.3 L631.8 464.4 L631.2 464.5 L630.7 464.5 L630.2 464.6 L629.7 464.7 L629.2 464.7 L628.7 464.8 L628.2 464.9 L627.7 464.9 L627.2 465 L626.6 465.1 L626.1 465.1 L625.6 465.2 L625.1 465.2 L624.6 465.3 L624.1 465.4 L623.6 465.4 L623.1 465.5 L622.6 465.6 L622 465.6 L621.5 465.7 L621 465.8 L620.5 465.8 L620 465.9Z"/>
<path fill="#fff" stroke="#222" stroke-width="1" stroke-linejoin="round" d="M142.8 459.6 L142.9 458.4 L143.2 457.2 L143.6 456 L144.2 454.9 L145 453.7 L146 452.6 L147.2 451.5 L148.5 450.4 L150 449.3 L151.7 448.2 L153.6 447.2 L155.6 446.2 L157.8 445.2 L160.2 444.2 L162.7 443.2 L165.4 442.3 L168.3 441.4 L171.3 440.5 L174.5 439.6 L177.9 438.8 L181.4 438 L185 437.2 L188.8 436.4 L192.8 435.7 L196.9 435 L201.1 434.4 L205.5 433.7 L210 433.1 L214.7 432.6 L219.4 432.1 L224.3 431.6 L229.4 431.1 L234.5 430.7 L239.8 430.3 L245.2 430 L250.7 429.7 L256.2 429.4 L261.9 429.1 L267.7 428.9 L273.6 428.8 L279.6 428.6 L285.7 428.5 L291.8 428.5 L298 428.5 L304.3 428.5 L310.7 428.5 L317.1 428.6 L323.6 428.7 L330.1 428.8 L336.7 429 L343.4 429.2 L350 429.4 L356.8 429.7 L363.5 430 L370.3 430.3 L377.1 430.6 L383.9 431 L390.8 431.3 L397.6 431.7 L404.4 432.2 L411.3 432.6 L418.1 433.1 L425 433.6 L431.8 434 L438.6 434.6 L445.4 435.1 L452.1 435.6 L458.9 436.2 L465.5 436.7 L472.2 437.3 L478.8 437.9 L485.3 438.5 L491.8 439.1 L498.2 439.7 L504.6 440.3 L510.9 440.9 L517.1 441.5 L523.2 442.2 L529.3 442.8 L535.3 443.4 L541.2 444 L547 444.7 L552.7 445.3 L558.2 445.9 L563.7 446.5 L569.1 447.1 L574.4 447.7 L579.5 448.3 L584.6 448.9 L589.5 449.5 L594.2 450.1 L598.9 450.7 L603.4 451.2 L607.8 451.8 L612 452.3 L616.1 452.8 L620.1 453.3 L623.9 453.8 L627.5 454.3 L631 454.8 L634.4 455.2 L637.6 455.6 L640.6 456 L643.5 456.4 L646.2 456.8 L648.7 457.1 L651.1 457.5 L653.3 457.8 L655.3 458.1 L657.2 458.3 L658.9 458.6 L660.4 458.8 L661.7 459 L662.9 459.1 L663.9 459.3 L664.7 459.4 L665.3 459.5 L665.7 459.5 L666 459.6 L666.1 459.6 L666.1 459.6 L666 459.6 L665.7 459.7 L665.3 459.7 L664.7 459.8 L663.9 459.9 L662.9 460.1 L661.7 460.2 L660.4 460.4 L658.9 460.6 L657.2 460.9 L655.3 461.1 L653.3 461.4 L651.1 461.7 L648.7 462.1 L646.2 462.4 L643.5 462.8 L640.6 463.2 L637.6 463.6 L634.4 464 L631 464.4 L627.5 464.9 L623.9 465.4 L620.1 465.9 L616.1 466.4 L612 466.9 L607.8 467.4 L603.4 468 L598.9 468.5 L594.2 469.1 L589.5 469.7 L584.6 470.3 L579.5 470.9 L574.4 471.5 L569.1 472.1 L563.7 472.7 L558.2 473.3 L552.7 473.9 L547 474.5 L541.2 475.2 L535.3 475.8 L529.3 476.4 L523.2 477 L517.1 477.7 L510.9 478.3 L504.6 478.9 L498.2 479.5 L491.8 480.1 L485.3 480.7 L478.8 481.3 L472.2 481.9 L465.5 482.5 L458.9 483 L452.1 483.6 L445.4 484.1 L438.6 484.6 L431.8 485.2 L425 485.6 L418.1 486.1 L411.3 486.6 L404.4 487 L397.6 487.5 L390.8 487.9 L383.9 488.2 L377.1 488.6 L370.3 488.9 L363.5 489.2 L356.8 489.5 L350 489.8 L343.4 490 L336.7 490.2 L330.1 490.4 L323.6 490.5 L317.1 490.6 L310.7 490.7 L304.3 490.7 L298 490.7 L291.8 490.7 L285.7 490.7 L279.6 490.6 L273.6 490.4 L267.7 490.3 L261.9 490.1 L256.2 489.8 L250.7 489.5 L245.2 489.2 L239.8 488.9 L234.5 488.5 L229.4 488.1 L224.3 487.6 L219.4 487.1 L214.7 486.6 L210 486.1 L205.5 485.5 L201.1 484.8 L196.9 484.2 L192.8 483.5 L188.8 482.8 L185 482 L181.4 481.2 L177.9 480.4 L174.5 479.6 L171.3 478.7 L168.3 477.8 L165.4 476.9 L162.7 476 L160.2 475 L157.8 474 L155.6 473 L153.6 472 L151.7 471 L150 469.9 L148.5 468.8 L147.2 467.7 L146 466.6 L145 465.5 L144.2 464.3 L143.6 463.2 L143.2 462 L142.9 460.8 L142.8 459.6Z"/>
</g>
<g clip-path="url(#cpIn)">
<rect x="149.1" y="80.1" width="330.2" height="290.2" fill="#CDDC35"/>
<path fill="#F5D122" d="M272 74 C272.8 75 273.7 76.8 276.8 80 C279.9 83.2 285.8 88.3 290.5 93.5 C295.2 98.7 301.1 105.9 305 111 C308.9 116.1 311.5 119.8 314 124 C316.5 128.2 318.2 131.6 320 136 C321.8 140.4 323.7 146.2 324.8 150.7 C325.9 155.2 326.5 159.4 326.8 163 C327.1 166.6 326.9 168.8 326.4 172.5 C325.9 176.2 324.8 181.7 324 185 C323.2 188.3 323 190.3 321.7 192.6 C320.4 194.9 316.9 197.9 316 199 L340 215 L380 180 L380 70 Z"/>
<path fill="#F5D122" d="M316 280 C317 280.5 320.2 281.7 322 283 C323.8 284.3 326.6 283.5 327 288 C327.4 292.5 325.8 303.2 324.5 310 C323.2 316.8 321.1 321.6 319 328.6 C316.9 335.6 314.3 345.1 312 352 C309.7 358.9 306.9 366.3 305.4 370.3 C303.9 374.3 303.4 375.1 303 376 L380 376 L380 300 L340 265 Z"/>
<path fill="#F08A1D" d="M349.4 74 C349.5 75 349.3 75.9 349.8 80.2 C350.3 84.5 352.1 94.7 352.6 100 C353.1 105.3 353 107 353 112 C353 117 352.8 124.5 352.4 130 C352 135.5 351.5 140 350.5 145 C349.5 150 348.1 154.7 346.6 160 C345.1 165.3 343 172.6 341.3 177 C339.6 181.4 337.9 184 336.5 186.5 C335.1 189 333.6 191.1 333 192 L350 215 L430 180 L430 70 Z"/>
<path fill="#F08A1D" d="M338 292 C338.7 292.9 340.8 294.1 342 297.4 C343.2 300.7 344.6 306.8 345.5 312 C346.4 317.2 346.7 322.3 347.5 328.6 C348.3 334.9 349.6 343.1 350.5 350 C351.4 356.9 352.4 366 353 370.3 C353.6 374.6 353.8 375.1 354 376 L430 376 L430 300 L350 265 Z"/>
<path fill="#E8501A" d="M422 74 C421.3 75 421.2 74.1 418 80.2 C414.8 86.3 408.2 100.7 402.5 110.4 C396.8 120.1 389.8 129.5 383.8 138.3 C377.8 147.1 370.5 157.1 366.7 163 C362.9 168.9 361.9 172.2 361 174 L380 200 L485 200 L485 70 Z"/>
<path fill="#E8501A" d="M360 303 C360.6 303.9 361.8 304.9 363.8 308.2 C365.8 311.5 369.1 317.8 372 323 C374.9 328.2 378.2 334.1 381.4 339.4 C384.6 344.7 387.8 349.9 391 355 C394.2 360.1 398.2 366.8 400.4 370.3 C402.6 373.8 403.4 375.1 404 376 L485 376 L485 280 L380 280 Z"/>
<path fill="#E4171D" d="M485 106.5 C484.1 107.2 483.3 107.7 479.4 110.4 C475.5 113.1 468 118.1 461.4 122.8 C454.8 127.5 446.4 133.4 439.7 138.3 C433 143.2 425.1 149.1 421 152.3 C416.9 155.5 416 156.6 415 157.5 L430 180 L485 180 Z"/>
<path fill="#E4171D" d="M413 322 C413.6 322.4 414.2 322.9 416.7 324.5 C419.2 326.1 423.9 329 428 331.5 C432.1 334 435.2 335.4 441 339.4 C446.8 343.4 456.9 350.9 463 355.7 C469.1 360.5 474.1 364.9 477.8 368 C481.5 371.1 483.8 373 485 374 L485 300 L430 300 Z"/>
<path fill="#98C828" d="M305.4 161.9 C304.4 160.9 301.2 157.8 299 155.8 C296.8 153.9 294.5 152 292.2 150.2 C289.8 148.5 287.4 146.8 284.9 145.2 C282.4 143.6 279.9 142.1 277.3 140.8 C274.7 139.4 272 138.1 269.3 136.9 C266.6 135.8 263.8 134.7 261 133.8 C258.2 132.8 255.4 132 252.6 131.2 C249.7 130.5 246.8 129.9 243.9 129.4 C241 128.9 238.1 128.5 235.1 128.3 C232.2 128 229.2 127.8 226.3 127.8 C223.4 127.8 220.4 127.9 217.5 128.1 C214.5 128.3 211.6 128.6 208.7 129 C205.8 129.4 202.8 130 200 130.6 C197.1 131.3 194.3 132.1 191.4 133 C188.6 133.8 185.9 134.8 183.1 135.9 C180.4 137 177.7 138.3 175.1 139.6 C172.4 140.9 169.8 142.3 167.3 143.8 C164.8 145.4 162.3 147 159.9 148.7 C157.5 150.4 155.2 152.2 152.9 154.1 C150.7 156 148.5 158 146.4 160.1 C144.3 162.2 142.3 164.3 140.4 166.5 C138.4 168.8 136.6 171.1 134.9 173.5 C133.1 175.8 131.5 178.3 129.9 180.8 C128.4 183.3 126.9 185.9 125.6 188.5 C124.2 191.1 123 193.8 121.8 196.5 C120.7 199.2 119.7 202 118.8 204.8 C117.8 207.6 117 210.4 116.3 213.3 C115.6 216.2 115.1 219.1 114.6 222 C114.1 224.9 113.8 227.8 113.5 230.8 C113.3 233.7 113.2 236.7 113.2 239.6 C113.2 242.5 113.3 245.5 113.5 248.4 C113.8 251.4 114.1 254.3 114.6 257.2 C115.1 260.1 115.6 263 116.3 265.9 C117 268.8 117.8 271.6 118.8 274.4 C119.7 277.2 120.7 280 121.8 282.7 C123 285.4 124.2 288.1 125.6 290.7 C126.9 293.3 128.4 295.9 129.9 298.4 C131.5 300.9 133.1 303.4 134.9 305.7 C136.6 308.1 138.4 310.4 140.4 312.7 C142.3 314.9 144.3 317 146.4 319.1 C148.5 321.2 150.7 323.2 152.9 325.1 C155.2 327 157.5 328.8 159.9 330.5 C162.3 332.2 164.8 333.8 167.3 335.4 C169.8 336.9 172.4 338.3 175.1 339.6 C177.7 340.9 180.4 342.2 183.1 343.3 C185.9 344.4 188.6 345.4 191.4 346.2 C194.3 347.1 197.1 347.9 200 348.6 C202.8 349.2 205.8 349.8 208.7 350.2 C211.6 350.6 214.5 350.9 217.5 351.1 C220.4 351.3 223.4 351.4 226.3 351.4 C229.2 351.4 232.2 351.2 235.1 350.9 C238.1 350.7 241 350.3 243.9 349.8 C246.8 349.3 249.7 348.7 252.6 348 C255.4 347.2 258.2 346.4 261 345.4 C263.8 344.5 266.6 343.4 269.3 342.3 C272 341.1 274.7 339.8 277.3 338.4 C279.9 337.1 282.4 335.6 284.9 334 C287.4 332.4 289.8 330.7 292.2 329 C294.5 327.2 296.8 325.3 299 323.4 C301.2 321.4 303.4 320.5 305.4 317.3 C307.4 314.1 309.5 308.4 311 304.2 C312.5 300 314 296 314.2 292.2 C314.4 288.4 313.4 284.2 312 281.2 C310.6 278.2 305 281.1 306 274.2 C307 267.3 318 251.1 318 239.6 C318 228.1 307 211.9 306 205 C305 198.1 310.6 201 312 198 C313.4 195 314.4 190.8 314.2 187 C314 183.2 311.5 177 311 175Z"/>
<path fill="#74B82E" d="M293.7 178.1 C293 177.8 290.8 176.8 289.4 176.2 C287.9 175.6 286.4 175 284.9 174.5 C283.4 174 281.9 173.6 280.4 173.2 C278.9 172.8 277.3 172.5 275.8 172.2 C274.2 171.9 272.7 171.7 271.1 171.5 C269.6 171.3 268 171.2 266.4 171.1 C264.8 171 263.3 171 261.7 171 C260.1 171 258.5 171.1 257 171.3 C255.4 171.4 253.8 171.6 252.3 171.8 C250.7 172.1 249.2 172.4 247.7 172.7 C246.1 173 244.6 173.4 243.1 173.9 C241.6 174.3 240.1 174.8 238.6 175.4 C237.1 175.9 235.7 176.5 234.2 177.2 C232.8 177.8 231.4 178.5 230 179.3 C228.6 180 227.2 180.8 225.9 181.6 C224.6 182.5 223.3 183.4 222 184.3 C220.7 185.2 219.5 186.2 218.3 187.2 C217 188.2 215.9 189.2 214.7 190.3 C213.6 191.4 212.5 192.5 211.4 193.7 C210.4 194.8 209.3 196 208.3 197.3 C207.4 198.5 206.4 199.8 205.5 201.1 C204.6 202.3 203.8 203.7 203 205 C202.1 206.4 201.4 207.7 200.7 209.1 C200 210.5 199.3 212 198.7 213.4 C198 214.9 197.5 216.3 196.9 217.8 C196.4 219.3 196 220.8 195.5 222.3 C195.1 223.8 194.7 225.4 194.4 226.9 C194.1 228.5 193.8 230 193.6 231.6 C193.4 233.1 193.3 234.7 193.2 236.3 C193.1 237.8 193 239.4 193 241 C193 242.6 193.1 244.2 193.2 245.7 C193.3 247.3 193.4 248.9 193.6 250.4 C193.8 252 194.1 253.5 194.4 255.1 C194.7 256.6 195.1 258.2 195.5 259.7 C196 261.2 196.4 262.7 196.9 264.2 C197.5 265.7 198 267.1 198.7 268.6 C199.3 270 200 271.5 200.7 272.9 C201.4 274.3 202.1 275.6 203 277 C203.8 278.3 204.6 279.7 205.5 280.9 C206.4 282.2 207.4 283.5 208.3 284.7 C209.3 286 210.4 287.2 211.4 288.3 C212.5 289.5 213.6 290.6 214.7 291.7 C215.9 292.8 217 293.8 218.3 294.8 C219.5 295.8 220.7 296.8 222 297.7 C223.3 298.6 224.6 299.5 225.9 300.4 C227.2 301.2 228.6 302 230 302.7 C231.4 303.5 232.8 304.2 234.2 304.8 C235.7 305.5 237.1 306.1 238.6 306.6 C240.1 307.2 241.6 307.7 243.1 308.1 C244.6 308.6 246.1 309 247.7 309.3 C249.2 309.6 250.7 309.9 252.3 310.2 C253.8 310.4 255.4 310.6 257 310.7 C258.5 310.9 260.1 311 261.7 311 C263.3 311 264.8 311 266.4 310.9 C268 310.8 269.6 310.7 271.1 310.5 C272.7 310.3 274.2 310.1 275.8 309.8 C277.3 309.5 278.9 309.2 280.4 308.8 C281.9 308.4 283.4 308 284.9 307.5 C286.4 307 287.9 306.4 289.4 305.8 C290.8 305.2 291.9 305.2 293.7 303.9 C295.5 302.6 298.2 300.5 300 298 C301.8 295.5 303.8 291.7 304.6 289 C305.4 286.3 305.4 284.3 305 282 C304.6 279.7 300.9 281.8 302.5 275 C304.1 268.2 314.5 252.3 314.5 241 C314.5 229.7 304.1 213.8 302.5 207 C300.9 200.2 304.6 202.3 305 200 C305.4 197.7 305.4 195.7 304.6 193 C303.8 190.3 300.8 185.5 300 184Z"/>
<ellipse cx="277" cy="240.5" rx="48" ry="48" fill="#68B436"/>
<ellipse cx="283.5" cy="240.5" rx="29.5" ry="30.5" fill="#66B850"/>
<ellipse cx="289" cy="239.8" rx="25.7" ry="27.6" fill="#6CBE82"/>
<ellipse cx="294" cy="239.8" rx="21.8" ry="24.6" fill="#6EC4BE"/>
<ellipse cx="294.3" cy="240" rx="17.1" ry="21" fill="#4EBCE2"/>
<ellipse cx="296.7" cy="239.8" rx="14.9" ry="17.6" fill="#3484C8"/>
<ellipse cx="297.8" cy="239.8" rx="11.5" ry="12.6" fill="#2258A8"/>
<ellipse cx="298.4" cy="240" rx="8.6" ry="8" fill="#1E4C9C"/>
<path fill="none" stroke="#E8501A" stroke-width="11" d="M405.8 165.6 L409.6 164.6 L413.4 163.6 L417.3 162.6 L421.3 161.6 L425.3 160.6 L429.4 159.6 L433.6 158.6 L437.8 157.6 L442.1 156.7 L446.4 155.7 L450.8 154.8 L455.3 153.9 L459.8 153 L464.4 152.1 L469.1 151.2 L473.8 150.3 L478.6 149.4 L483.4 148.6 L488.3 147.7 L493.3 146.9"/>
<path fill="none" stroke="#E8501A" stroke-width="11" d="M405.8 313.4 L409.6 314.4 L413.4 315.4 L417.3 316.4 L421.3 317.4 L425.3 318.4 L429.4 319.4 L433.6 320.4 L437.8 321.4 L442.1 322.3 L446.4 323.3 L450.8 324.2 L455.3 325.1 L459.8 326 L464.4 326.9 L469.1 327.8 L473.8 328.7 L478.6 329.6 L483.4 330.4 L488.3 331.3 L493.3 332.1"/>
<path fill="none" stroke="#F08A1D" stroke-width="6.4" d="M345.8 186.6 L348.4 185.4 L351.1 184.3 L353.8 183.1 L356.6 182 L359.4 180.8 L362.3 179.7 L365.3 178.6 L368.3 177.4 L371.4 176.3 L374.6 175.2 L377.8 174.1 L381.1 173 L384.4 171.9 L387.8 170.9 L391.3 169.8 L394.8 168.7 L398.4 167.7 L402.1 166.6 L405.8 165.6 L409.6 164.6 L413.4 163.6 L417.3 162.6 L421.3 161.6 L425.3 160.6 L429.4 159.6 L433.6 158.6 L437.8 157.6 L442.1 156.7 L446.4 155.7 L450.8 154.8 L455.3 153.9 L459.8 153 L464.4 152.1 L469.1 151.2 L473.8 150.3 L478.6 149.4 L483.4 148.6 L488.3 147.7 L493.3 146.9"/>
<path fill="none" stroke="#F08A1D" stroke-width="6.4" d="M345.8 292.4 L348.4 293.6 L351.1 294.7 L353.8 295.9 L356.6 297 L359.4 298.2 L362.3 299.3 L365.3 300.4 L368.3 301.6 L371.4 302.7 L374.6 303.8 L377.8 304.9 L381.1 306 L384.4 307.1 L387.8 308.1 L391.3 309.2 L394.8 310.3 L398.4 311.3 L402.1 312.4 L405.8 313.4 L409.6 314.4 L413.4 315.4 L417.3 316.4 L421.3 317.4 L425.3 318.4 L429.4 319.4 L433.6 320.4 L437.8 321.4 L442.1 322.3 L446.4 323.3 L450.8 324.2 L455.3 325.1 L459.8 326 L464.4 326.9 L469.1 327.8 L473.8 328.7 L478.6 329.6 L483.4 330.4 L488.3 331.3 L493.3 332.1"/>
<path fill="none" stroke="#F5D122" stroke-width="3.8" d="M323.3 198.7 L325.3 197.4 L327.3 196.2 L329.4 195 L331.6 193.8 L333.8 192.6 L336.1 191.4 L338.4 190.2 L340.8 189 L343.3 187.8 L345.8 186.6 L348.4 185.4 L351.1 184.3 L353.8 183.1 L356.6 182 L359.4 180.8 L362.3 179.7 L365.3 178.6 L368.3 177.4 L371.4 176.3 L374.6 175.2 L377.8 174.1 L381.1 173 L384.4 171.9 L387.8 170.9 L391.3 169.8 L394.8 168.7 L398.4 167.7 L402.1 166.6 L405.8 165.6 L409.6 164.6 L413.4 163.6 L417.3 162.6 L421.3 161.6 L425.3 160.6 L429.4 159.6 L433.6 158.6 L437.8 157.6 L442.1 156.7 L446.4 155.7 L450.8 154.8 L455.3 153.9 L459.8 153 L464.4 152.1 L469.1 151.2 L473.8 150.3 L478.6 149.4 L483.4 148.6 L488.3 147.7 L493.3 146.9"/>
<path fill="none" stroke="#F5D122" stroke-width="3.8" d="M323.3 280.3 L325.3 281.6 L327.3 282.8 L329.4 284 L331.6 285.2 L333.8 286.4 L336.1 287.6 L338.4 288.8 L340.8 290 L343.3 291.2 L345.8 292.4 L348.4 293.6 L351.1 294.7 L353.8 295.9 L356.6 297 L359.4 298.2 L362.3 299.3 L365.3 300.4 L368.3 301.6 L371.4 302.7 L374.6 303.8 L377.8 304.9 L381.1 306 L384.4 307.1 L387.8 308.1 L391.3 309.2 L394.8 310.3 L398.4 311.3 L402.1 312.4 L405.8 313.4 L409.6 314.4 L413.4 315.4 L417.3 316.4 L421.3 317.4 L425.3 318.4 L429.4 319.4 L433.6 320.4 L437.8 321.4 L442.1 322.3 L446.4 323.3 L450.8 324.2 L455.3 325.1 L459.8 326 L464.4 326.9 L469.1 327.8 L473.8 328.7 L478.6 329.6 L483.4 330.4 L488.3 331.3 L493.3 332.1"/>
<path fill="none" stroke="#98C828" stroke-width="1.9" d="M312.8 206.2 L314.4 204.9 L316.1 203.7 L317.8 202.4 L319.6 201.1 L321.4 199.9 L323.3 198.7 L325.3 197.4 L327.3 196.2 L329.4 195 L331.6 193.8 L333.8 192.6 L336.1 191.4 L338.4 190.2 L340.8 189 L343.3 187.8 L345.8 186.6 L348.4 185.4 L351.1 184.3 L353.8 183.1 L356.6 182 L359.4 180.8 L362.3 179.7 L365.3 178.6 L368.3 177.4 L371.4 176.3 L374.6 175.2 L377.8 174.1 L381.1 173 L384.4 171.9 L387.8 170.9 L391.3 169.8 L394.8 168.7 L398.4 167.7 L402.1 166.6 L405.8 165.6 L409.6 164.6 L413.4 163.6 L417.3 162.6 L421.3 161.6 L425.3 160.6 L429.4 159.6 L433.6 158.6 L437.8 157.6 L442.1 156.7 L446.4 155.7 L450.8 154.8 L455.3 153.9 L459.8 153 L464.4 152.1 L469.1 151.2 L473.8 150.3 L478.6 149.4 L483.4 148.6 L488.3 147.7 L493.3 146.9"/>
<path fill="none" stroke="#98C828" stroke-width="1.9" d="M312.8 272.8 L314.4 274.1 L316.1 275.3 L317.8 276.6 L319.6 277.9 L321.4 279.1 L323.3 280.3 L325.3 281.6 L327.3 282.8 L329.4 284 L331.6 285.2 L333.8 286.4 L336.1 287.6 L338.4 288.8 L340.8 290 L343.3 291.2 L345.8 292.4 L348.4 293.6 L351.1 294.7 L353.8 295.9 L356.6 297 L359.4 298.2 L362.3 299.3 L365.3 300.4 L368.3 301.6 L371.4 302.7 L374.6 303.8 L377.8 304.9 L381.1 306 L384.4 307.1 L387.8 308.1 L391.3 309.2 L394.8 310.3 L398.4 311.3 L402.1 312.4 L405.8 313.4 L409.6 314.4 L413.4 315.4 L417.3 316.4 L421.3 317.4 L425.3 318.4 L429.4 319.4 L433.6 320.4 L437.8 321.4 L442.1 322.3 L446.4 323.3 L450.8 324.2 L455.3 325.1 L459.8 326 L464.4 326.9 L469.1 327.8 L473.8 328.7 L478.6 329.6 L483.4 330.4 L488.3 331.3 L493.3 332.1"/>
<g fill="none" stroke="#1a1a10" stroke-width="0.7" stroke-opacity="0.7"><path d="M149.1 155.7 L153.1 155.4 L157.1 155.1 L161.1 154.8 L165.1 154.5 L169.1 154.2 L173.1 153.9 L177.1 153.5 L181.1 153.2 L185.1 152.8 L189.1 152.4 L193.1 152 L197.1 151.6 L201.1 151.1 L205.1 150.7 L209.1 150.2 L213.1 149.7 L217.1 149.1 L221.1 148.6 L225.1 148 L229.1 147.4 L233.1 146.7 L237.1 146.1 L241.1 145.4 L245.1 144.6 L249.1 143.9 L253.1 143.1 L257.1 142.2 L261.1 141.4 L265.1 140.5 L269.1 139.6 L273.1 138.6 L277.1 137.6 L281.1 136.6 L285.1 135.6 L289.1 134.5 L293.1 133.4 L297.1 132.3 L301.1 131.2 L305.1 130.1 L309.1 128.9 L313.1 127.7 L317.1 126.6 L321.1 125.4 L325.1 124.3 L329.1 123.1 L333.1 121.9 L337.1 120.8 L341.1 119.7 L345.1 118.6 L349.1 117.5 L353.1 116.4 L357.1 115.3 L361.1 114.3 L365.1 113.3 L369.1 112.3 L373.1 111.3 L377.1 110.4 L381.1 109.4 L385.1 108.5 L389.1 107.7 L393.1 106.8 L397.1 106 L401.1 105.2 L405.1 104.4 L409.1 103.6 L413.1 102.8 L417.1 102.1 L421.1 101.4 L425.1 100.7 L429.1 100.1 L433.1 99.4 L437.1 98.8 L441.1 98.2 L445.1 97.6 L449.1 97 L453.1 96.4 L457.1 95.9 L461.1 95.4 L465.1 94.9 L469.1 94.3 L473.1 93.9 L477.1 93.4 L481.1 92.9" stroke-dasharray="14 3 15 2 10 4 10 3 18 2 17 3 9 2 15 4 10 3 10 4 15 2 18 2" stroke-dashoffset="7"/><path d="M149.1 165.7 L153.1 165.5 L157.1 165.2 L161.1 164.9 L165.1 164.6 L169.1 164.4 L173.1 164 L177.1 163.7 L181.1 163.4 L185.1 163.1 L189.1 162.7 L193.1 162.3 L197.1 161.9 L201.1 161.5 L205.1 161 L209.1 160.6 L213.1 160.1 L217.1 159.6 L221.1 159.1 L225.1 158.5 L229.1 157.9 L233.1 157.3 L237.1 156.6 L241.1 156 L245.1 155.2 L249.1 154.5 L253.1 153.7 L257.1 152.9 L261.1 152 L265.1 151.1 L269.1 150.1 L273.1 149.2 L277.1 148.1 L281.1 147.1 L285.1 146 L289.1 144.8 L293.1 143.7 L297.1 142.5 L301.1 141.3 L305.1 140 L309.1 138.8 L313.1 137.5 L317.1 136.3 L321.1 135 L325.1 133.7 L329.1 132.5 L333.1 131.2 L337.1 130 L341.1 128.8 L345.1 127.5 L349.1 126.4 L353.1 125.2 L357.1 124.1 L361.1 122.9 L365.1 121.8 L369.1 120.8 L373.1 119.7 L377.1 118.7 L381.1 117.8 L385.1 116.8 L389.1 115.9 L393.1 115 L397.1 114.1 L401.1 113.2 L405.1 112.4 L409.1 111.6 L413.1 110.8 L417.1 110.1 L421.1 109.4 L425.1 108.6 L429.1 108 L433.1 107.3 L437.1 106.6 L441.1 106 L445.1 105.4 L449.1 104.8 L453.1 104.3 L457.1 103.7 L461.1 103.2 L465.1 102.6 L469.1 102.1 L473.1 101.6 L477.1 101.2 L481.1 100.7" stroke-dasharray="17 2 18 3 17 3 10 4 18 3 14 2 17 2 18 2 18 3 16 4 15 3 16 4" stroke-dashoffset="14"/><path d="M149.1 176.6 L153.1 176.4 L157.1 176.2 L161.1 175.9 L165.1 175.7 L169.1 175.4 L173.1 175.1 L177.1 174.9 L181.1 174.6 L185.1 174.3 L189.1 173.9 L193.1 173.6 L197.1 173.2 L201.1 172.9 L205.1 172.5 L209.1 172 L213.1 171.6 L217.1 171.1 L221.1 170.6 L225.1 170.1 L229.1 169.6 L233.1 169 L237.1 168.4 L241.1 167.7 L245.1 167 L249.1 166.3 L253.1 165.5 L257.1 164.7 L261.1 163.8 L265.1 162.9 L269.1 162 L273.1 161 L277.1 159.9 L281.1 158.8 L285.1 157.6 L289.1 156.4 L293.1 155.2 L297.1 153.9 L301.1 152.6 L305.1 151.2 L309.1 149.8 L313.1 148.5 L317.1 147.1 L321.1 145.6 L325.1 144.2 L329.1 142.8 L333.1 141.4 L337.1 140.1 L341.1 138.7 L345.1 137.4 L349.1 136.1 L353.1 134.8 L357.1 133.6 L361.1 132.3 L365.1 131.2 L369.1 130 L373.1 128.9 L377.1 127.8 L381.1 126.7 L385.1 125.7 L389.1 124.7 L393.1 123.8 L397.1 122.9 L401.1 122 L405.1 121.1 L409.1 120.3 L413.1 119.4 L417.1 118.7 L421.1 117.9 L425.1 117.2 L429.1 116.5 L433.1 115.8 L437.1 115.1 L441.1 114.5 L445.1 113.9 L449.1 113.3 L453.1 112.7 L457.1 112.1 L461.1 111.6 L465.1 111 L469.1 110.5 L473.1 110 L477.1 109.5 L481.1 109.1" stroke-dasharray="18 2 10 4 15 3 21 3 11 4 15 2 19 2 21 4 18 3 14 3 18 4 18 4" stroke-dashoffset="2"/><path d="M149.1 185.7 L153.1 185.5 L157.1 185.3 L161.1 185.1 L165.1 184.9 L169.1 184.7 L173.1 184.4 L177.1 184.2 L181.1 183.9 L185.1 183.6 L189.1 183.4 L193.1 183.1 L197.1 182.7 L201.1 182.4 L205.1 182 L209.1 181.7 L213.1 181.3 L217.1 180.8 L221.1 180.4 L225.1 179.9 L229.1 179.4 L233.1 178.9 L237.1 178.3 L241.1 177.7 L245.1 177.1 L249.1 176.4 L253.1 175.6 L257.1 174.8 L261.1 174 L265.1 173.1 L269.1 172.1 L273.1 171.1 L277.1 170 L281.1 168.9 L285.1 167.7 L289.1 166.4 L293.1 165.1 L297.1 163.8 L301.1 162.3 L305.1 160.9 L309.1 159.4 L313.1 157.9 L317.1 156.3 L321.1 154.8 L325.1 153.2 L329.1 151.7 L333.1 150.1 L337.1 148.6 L341.1 147.1 L345.1 145.7 L349.1 144.2 L353.1 142.8 L357.1 141.5 L361.1 140.2 L365.1 138.9 L369.1 137.7 L373.1 136.5 L377.1 135.3 L381.1 134.2 L385.1 133.1 L389.1 132.1 L393.1 131.1 L397.1 130.1 L401.1 129.2 L405.1 128.3 L409.1 127.4 L413.1 126.6 L417.1 125.7 L421.1 125 L425.1 124.2 L429.1 123.5 L433.1 122.8 L437.1 122.1 L441.1 121.5 L445.1 120.8 L449.1 120.2 L453.1 119.6 L457.1 119.1 L461.1 118.5 L465.1 118 L469.1 117.5 L473.1 117 L477.1 116.5 L481.1 116" stroke-dasharray="16 3 20 4 19 3 9 4 14 3 18 2 16 2 12 3 11 3 15 4 16 2 11 4" stroke-dashoffset="12"/><path d="M149.1 195.7 L153.1 195.5 L157.1 195.4 L161.1 195.2 L165.1 195 L169.1 194.8 L173.1 194.6 L177.1 194.4 L181.1 194.2 L185.1 194 L189.1 193.8 L193.1 193.5 L197.1 193.2 L201.1 192.9 L205.1 192.6 L209.1 192.3 L213.1 192 L217.1 191.6 L221.1 191.2 L225.1 190.8 L229.1 190.4 L233.1 189.9 L237.1 189.4 L241.1 188.9 L245.1 188.3 L249.1 187.7 L253.1 187 L257.1 186.3 L261.1 185.5 L265.1 184.6 L269.1 183.7 L273.1 182.7 L277.1 181.7 L281.1 180.5 L285.1 179.3 L289.1 178 L293.1 176.6 L297.1 175.1 L301.1 173.6 L305.1 172 L309.1 170.3 L313.1 168.6 L317.1 166.9 L321.1 165.1 L325.1 163.4 L329.1 161.6 L333.1 159.9 L337.1 158.2 L341.1 156.5 L345.1 154.9 L349.1 153.3 L353.1 151.7 L357.1 150.2 L361.1 148.8 L365.1 147.4 L369.1 146.1 L373.1 144.8 L377.1 143.5 L381.1 142.3 L385.1 141.2 L389.1 140.1 L393.1 139 L397.1 138 L401.1 137 L405.1 136.1 L409.1 135.2 L413.1 134.3 L417.1 133.4 L421.1 132.6 L425.1 131.9 L429.1 131.1 L433.1 130.4 L437.1 129.7 L441.1 129 L445.1 128.4 L449.1 127.8 L453.1 127.2 L457.1 126.6 L461.1 126.1 L465.1 125.5 L469.1 125 L473.1 124.5 L477.1 124 L481.1 123.5" stroke-dasharray="12 3 10 3 11 3 19 3 9 4 18 3 13 3 9 3 15 4 14 4 18 3 11 4" stroke-dashoffset="19"/><path d="M149.1 204.3 L153.1 204.2 L157.1 204 L161.1 203.9 L165.1 203.8 L169.1 203.6 L173.1 203.4 L177.1 203.3 L181.1 203.1 L185.1 202.9 L189.1 202.7 L193.1 202.5 L197.1 202.3 L201.1 202 L205.1 201.8 L209.1 201.5 L213.1 201.2 L217.1 200.9 L221.1 200.6 L225.1 200.3 L229.1 199.9 L233.1 199.5 L237.1 199.1 L241.1 198.6 L245.1 198.1 L249.1 197.6 L253.1 197 L257.1 196.3 L261.1 195.6 L265.1 194.9 L269.1 194 L273.1 193.1 L277.1 192.1 L281.1 191 L285.1 189.8 L289.1 188.5 L293.1 187.1 L297.1 185.5 L301.1 183.9 L305.1 182.2 L309.1 180.3 L313.1 178.4 L317.1 176.5 L321.1 174.5 L325.1 172.5 L329.1 170.5 L333.1 168.6 L337.1 166.6 L341.1 164.8 L345.1 162.9 L349.1 161.2 L353.1 159.5 L357.1 157.8 L361.1 156.2 L365.1 154.7 L369.1 153.3 L373.1 151.9 L377.1 150.5 L381.1 149.3 L385.1 148 L389.1 146.9 L393.1 145.8 L397.1 144.7 L401.1 143.7 L405.1 142.7 L409.1 141.7 L413.1 140.8 L417.1 140 L421.1 139.2 L425.1 138.4 L429.1 137.6 L433.1 136.9 L437.1 136.2 L441.1 135.5 L445.1 134.8 L449.1 134.2 L453.1 133.6 L457.1 133 L461.1 132.5 L465.1 131.9 L469.1 131.4 L473.1 130.9 L477.1 130.4 L481.1 130" stroke-dasharray="15 4 15 2 16 4 9 3 10 3 16 3 10 3 18 2 10 2 18 3 17 2 14 4" stroke-dashoffset="0"/><path d="M149.1 210.3 L153.1 210.2 L157.1 210.1 L161.1 210 L165.1 209.8 L169.1 209.7 L173.1 209.6 L177.1 209.4 L181.1 209.3 L185.1 209.1 L189.1 209 L193.1 208.8 L197.1 208.6 L201.1 208.4 L205.1 208.2 L209.1 208 L213.1 207.7 L217.1 207.5 L221.1 207.2 L225.1 206.9 L229.1 206.6 L233.1 206.3 L237.1 205.9 L241.1 205.5 L245.1 205.1 L249.1 204.6 L253.1 204.1 L257.1 203.5 L261.1 202.9 L265.1 202.2 L269.1 201.5 L273.1 200.6 L277.1 199.7 L281.1 198.7 L285.1 197.5 L289.1 196.2 L293.1 194.8 L297.1 193.3 L301.1 191.6 L305.1 189.8 L309.1 187.8 L313.1 185.8 L317.1 183.6 L321.1 181.4 L325.1 179.2 L329.1 177 L333.1 174.9 L337.1 172.7 L341.1 170.7 L345.1 168.7 L349.1 166.7 L353.1 164.9 L357.1 163.1 L361.1 161.4 L365.1 159.8 L369.1 158.3 L373.1 156.8 L377.1 155.4 L381.1 154.1 L385.1 152.8 L389.1 151.6 L393.1 150.4 L397.1 149.3 L401.1 148.3 L405.1 147.3 L409.1 146.3 L413.1 145.4 L417.1 144.5 L421.1 143.7 L425.1 142.9 L429.1 142.1 L433.1 141.4 L437.1 140.6 L441.1 140 L445.1 139.3 L449.1 138.7 L453.1 138.1 L457.1 137.5 L461.1 136.9 L465.1 136.4 L469.1 135.9 L473.1 135.4 L477.1 134.9 L481.1 134.4" stroke-dasharray="16 4 16 3 10 3 10 3 20 3 16 3 17 2 12 4 14 3 20 4 9 4 13 2" stroke-dashoffset="8"/><path d="M149.1 216.8 L153.1 216.7 L157.1 216.6 L161.1 216.5 L165.1 216.4 L169.1 216.3 L173.1 216.2 L177.1 216.1 L181.1 216 L185.1 215.9 L189.1 215.8 L193.1 215.6 L197.1 215.5 L201.1 215.3 L205.1 215.2 L209.1 215 L213.1 214.8 L217.1 214.6 L221.1 214.4 L225.1 214.1 L229.1 213.9 L233.1 213.6 L237.1 213.3 L241.1 213 L245.1 212.7 L249.1 212.3 L253.1 211.9 L257.1 211.4 L261.1 210.9 L265.1 210.3 L269.1 209.7 L273.1 209 L277.1 208.2 L281.1 207.3 L285.1 206.2 L289.1 205.1 L293.1 203.7 L297.1 202.2 L301.1 200.5 L305.1 198.7 L309.1 196.6 L313.1 194.3 L317.1 191.9 L321.1 189.5 L325.1 187 L329.1 184.5 L333.1 182 L337.1 179.6 L341.1 177.2 L345.1 175 L349.1 172.9 L353.1 170.9 L357.1 168.9 L361.1 167.1 L365.1 165.4 L369.1 163.7 L373.1 162.1 L377.1 160.7 L381.1 159.3 L385.1 157.9 L389.1 156.7 L393.1 155.5 L397.1 154.3 L401.1 153.2 L405.1 152.2 L409.1 151.2 L413.1 150.3 L417.1 149.4 L421.1 148.5 L425.1 147.7 L429.1 146.9 L433.1 146.2 L437.1 145.4 L441.1 144.8 L445.1 144.1 L449.1 143.5 L453.1 142.9 L457.1 142.3 L461.1 141.7 L465.1 141.2 L469.1 140.7 L473.1 140.2 L477.1 139.7 L481.1 139.2" stroke-dasharray="21 3 21 3 15 3 12 4 16 3 20 2 9 3 16 3 12 4 14 4 21 3 14 2" stroke-dashoffset="7"/><path d="M149.1 221.2 L153.1 221.1 L157.1 221.1 L161.1 221 L165.1 220.9 L169.1 220.8 L173.1 220.8 L177.1 220.7 L181.1 220.6 L185.1 220.5 L189.1 220.4 L193.1 220.3 L197.1 220.1 L201.1 220 L205.1 219.9 L209.1 219.7 L213.1 219.6 L217.1 219.4 L221.1 219.2 L225.1 219.1 L229.1 218.9 L233.1 218.6 L237.1 218.4 L241.1 218.1 L245.1 217.8 L249.1 217.5 L253.1 217.2 L257.1 216.8 L261.1 216.4 L265.1 215.9 L269.1 215.4 L273.1 214.8 L277.1 214.1 L281.1 213.3 L285.1 212.4 L289.1 211.3 L293.1 210.1 L297.1 208.7 L301.1 207.1 L305.1 205.2 L309.1 203.1 L313.1 200.7 L317.1 198.1 L321.1 195.4 L325.1 192.6 L329.1 189.8 L333.1 187.1 L337.1 184.4 L341.1 181.9 L345.1 179.4 L349.1 177.1 L353.1 174.9 L357.1 172.9 L361.1 170.9 L365.1 169.1 L369.1 167.4 L373.1 165.7 L377.1 164.2 L381.1 162.7 L385.1 161.4 L389.1 160.1 L393.1 158.8 L397.1 157.7 L401.1 156.5 L405.1 155.5 L409.1 154.5 L413.1 153.5 L417.1 152.6 L421.1 151.8 L425.1 150.9 L429.1 150.1 L433.1 149.4 L437.1 148.7 L441.1 148 L445.1 147.3 L449.1 146.7 L453.1 146.1 L457.1 145.5 L461.1 145 L465.1 144.4 L469.1 143.9 L473.1 143.4 L477.1 142.9 L481.1 142.5" stroke-dasharray="14 2 19 2 15 3 16 3 15 3 10 4 16 4 20 2 20 3 11 3 9 3 18 4" stroke-dashoffset="20"/><path d="M149.1 224.6 L153.1 224.5 L157.1 224.5 L161.1 224.4 L165.1 224.4 L169.1 224.3 L173.1 224.2 L177.1 224.2 L181.1 224.1 L185.1 224 L189.1 223.9 L193.1 223.8 L197.1 223.7 L201.1 223.6 L205.1 223.5 L209.1 223.4 L213.1 223.3 L217.1 223.1 L221.1 223 L225.1 222.9 L229.1 222.7 L233.1 222.5 L237.1 222.3 L241.1 222.1 L245.1 221.9 L249.1 221.6 L253.1 221.3 L257.1 221 L261.1 220.6 L265.1 220.3 L269.1 219.8 L273.1 219.3 L277.1 218.7 L281.1 218 L285.1 217.3 L289.1 216.4 L293.1 215.3 L297.1 214 L301.1 212.5 L305.1 210.7 L309.1 208.5 L313.1 206.1 L317.1 203.3 L321.1 200.4 L325.1 197.3 L329.1 194.2 L333.1 191.2 L337.1 188.3 L341.1 185.5 L345.1 182.9 L349.1 180.4 L353.1 178.1 L357.1 176 L361.1 173.9 L365.1 172 L369.1 170.2 L373.1 168.5 L377.1 166.9 L381.1 165.4 L385.1 164 L389.1 162.7 L393.1 161.4 L397.1 160.2 L401.1 159.1 L405.1 158 L409.1 157 L413.1 156.1 L417.1 155.1 L421.1 154.3 L425.1 153.4 L429.1 152.6 L433.1 151.9 L437.1 151.2 L441.1 150.5 L445.1 149.8 L449.1 149.2 L453.1 148.6 L457.1 148 L461.1 147.4 L465.1 146.9 L469.1 146.4 L473.1 145.9 L477.1 145.4 L481.1 145" stroke-dasharray="19 2 17 3 15 3 12 2 13 3 13 4 12 4 14 3 17 4 11 2 20 3 16 4" stroke-dashoffset="16"/><path d="M149.1 228.2 L153.1 228.2 L157.1 228.1 L161.1 228.1 L165.1 228 L169.1 228 L173.1 227.9 L177.1 227.9 L181.1 227.8 L185.1 227.7 L189.1 227.7 L193.1 227.6 L197.1 227.5 L201.1 227.5 L205.1 227.4 L209.1 227.3 L213.1 227.2 L217.1 227.1 L221.1 227 L225.1 226.9 L229.1 226.7 L233.1 226.6 L237.1 226.5 L241.1 226.3 L245.1 226.1 L249.1 225.9 L253.1 225.7 L257.1 225.5 L261.1 225.2 L265.1 224.9 L269.1 224.5 L273.1 224.1 L277.1 223.7 L281.1 223.2 L285.1 222.5 L289.1 221.8 L293.1 220.9 L297.1 219.8 L301.1 218.5 L305.1 216.9 L309.1 214.9 L313.1 212.4 L317.1 209.5 L321.1 206.3 L325.1 202.8 L329.1 199.3 L333.1 195.9 L337.1 192.6 L341.1 189.6 L345.1 186.7 L349.1 184 L353.1 181.6 L357.1 179.2 L361.1 177.1 L365.1 175.1 L369.1 173.2 L373.1 171.4 L377.1 169.8 L381.1 168.3 L385.1 166.8 L389.1 165.4 L393.1 164.2 L397.1 162.9 L401.1 161.8 L405.1 160.7 L409.1 159.7 L413.1 158.7 L417.1 157.8 L421.1 156.9 L425.1 156.1 L429.1 155.3 L433.1 154.5 L437.1 153.8 L441.1 153.1 L445.1 152.4 L449.1 151.8 L453.1 151.2 L457.1 150.6 L461.1 150.1 L465.1 149.5 L469.1 149 L473.1 148.5 L477.1 148.1 L481.1 147.6" stroke-dasharray="21 3 11 3 16 4 20 2 17 2 14 4 17 4 16 2 17 2 12 3 13 2 21 2" stroke-dashoffset="16"/><path d="M149.1 231.5 L153.1 231.5 L157.1 231.4 L161.1 231.4 L165.1 231.4 L169.1 231.3 L173.1 231.3 L177.1 231.3 L181.1 231.2 L185.1 231.2 L189.1 231.1 L193.1 231.1 L197.1 231 L201.1 231 L205.1 230.9 L209.1 230.9 L213.1 230.8 L217.1 230.7 L221.1 230.6 L225.1 230.6 L229.1 230.5 L233.1 230.4 L237.1 230.3 L241.1 230.2 L245.1 230 L249.1 229.9 L253.1 229.7 L257.1 229.6 L261.1 229.4 L265.1 229.1 L269.1 228.9 L273.1 228.6 L277.1 228.3 L281.1 227.9 L285.1 227.5 L289.1 226.9 L293.1 226.3 L297.1 225.4 L301.1 224.4 L305.1 223.1 L309.1 221.3 L313.1 219 L317.1 216.1 L321.1 212.5 L325.1 208.6 L329.1 204.5 L333.1 200.6 L337.1 196.9 L341.1 193.4 L345.1 190.3 L349.1 187.4 L353.1 184.7 L357.1 182.3 L361.1 180 L365.1 177.9 L369.1 176 L373.1 174.1 L377.1 172.4 L381.1 170.8 L385.1 169.4 L389.1 168 L393.1 166.6 L397.1 165.4 L401.1 164.2 L405.1 163.1 L409.1 162.1 L413.1 161.1 L417.1 160.2 L421.1 159.3 L425.1 158.5 L429.1 157.7 L433.1 156.9 L437.1 156.2 L441.1 155.5 L445.1 154.8 L449.1 154.2 L453.1 153.6 L457.1 153 L461.1 152.5 L465.1 151.9 L469.1 151.4 L473.1 150.9 L477.1 150.5 L481.1 150" stroke-dasharray="17 4 21 4 17 3 20 4 13 4 12 4 11 4 10 4 16 3 10 3 15 2 12 3" stroke-dashoffset="3"/><path d="M149.1 234.8 L153.1 234.8 L157.1 234.8 L161.1 234.7 L165.1 234.7 L169.1 234.7 L173.1 234.7 L177.1 234.7 L181.1 234.6 L185.1 234.6 L189.1 234.6 L193.1 234.6 L197.1 234.5 L201.1 234.5 L205.1 234.5 L209.1 234.4 L213.1 234.4 L217.1 234.3 L221.1 234.3 L225.1 234.3 L229.1 234.2 L233.1 234.1 L237.1 234.1 L241.1 234 L245.1 233.9 L249.1 233.9 L253.1 233.8 L257.1 233.7 L261.1 233.5 L265.1 233.4 L269.1 233.3 L273.1 233.1 L277.1 232.9 L281.1 232.7 L285.1 232.4 L289.1 232.1 L293.1 231.7 L297.1 231.2 L301.1 230.5 L305.1 229.7 L309.1 228.5 L313.1 226.7 L317.1 224.1 L321.1 220.4 L325.1 215.7 L329.1 210.6 L333.1 205.8 L337.1 201.5 L341.1 197.5 L345.1 194 L349.1 190.8 L353.1 188 L357.1 185.3 L361.1 182.9 L365.1 180.7 L369.1 178.7 L373.1 176.8 L377.1 175 L381.1 173.4 L385.1 171.9 L389.1 170.5 L393.1 169.1 L397.1 167.9 L401.1 166.7 L405.1 165.6 L409.1 164.5 L413.1 163.5 L417.1 162.6 L421.1 161.7 L425.1 160.8 L429.1 160 L433.1 159.3 L437.1 158.5 L441.1 157.9 L445.1 157.2 L449.1 156.6 L453.1 156 L457.1 155.4 L461.1 154.8 L465.1 154.3 L469.1 153.8 L473.1 153.3 L477.1 152.9 L481.1 152.4" stroke-dasharray="10 4 16 3 19 3 11 4 17 4 14 4 12 3 14 2 20 3 9 3 17 4 16 2" stroke-dashoffset="12"/><path d="M149.1 237 L153.1 237 L157.1 237 L161.1 237 L165.1 237 L169.1 237 L173.1 236.9 L177.1 236.9 L181.1 236.9 L185.1 236.9 L189.1 236.9 L193.1 236.9 L197.1 236.9 L201.1 236.8 L205.1 236.8 L209.1 236.8 L213.1 236.8 L217.1 236.8 L221.1 236.7 L225.1 236.7 L229.1 236.7 L233.1 236.7 L237.1 236.6 L241.1 236.6 L245.1 236.5 L249.1 236.5 L253.1 236.5 L257.1 236.4 L261.1 236.3 L265.1 236.3 L269.1 236.2 L273.1 236.1 L277.1 236 L281.1 235.9 L285.1 235.7 L289.1 235.6 L293.1 235.3 L297.1 235.1 L301.1 234.7 L305.1 234.2 L309.1 233.6 L313.1 232.5 L317.1 230.8 L321.1 227.6 L325.1 222.3 L329.1 215.9 L333.1 209.9 L337.1 204.9 L341.1 200.5 L345.1 196.6 L349.1 193.2 L353.1 190.2 L357.1 187.4 L361.1 184.9 L365.1 182.6 L369.1 180.5 L373.1 178.6 L377.1 176.8 L381.1 175.1 L385.1 173.6 L389.1 172.1 L393.1 170.8 L397.1 169.5 L401.1 168.3 L405.1 167.2 L409.1 166.1 L413.1 165.1 L417.1 164.2 L421.1 163.3 L425.1 162.4 L429.1 161.6 L433.1 160.9 L437.1 160.1 L441.1 159.4 L445.1 158.8 L449.1 158.1 L453.1 157.5 L457.1 157 L461.1 156.4 L465.1 155.9 L469.1 155.4 L473.1 154.9 L477.1 154.5 L481.1 154" stroke-dasharray="13 3 9 3 13 3 15 3 15 3 17 4 18 4 20 3 10 3 9 3 15 2 13 2" stroke-dashoffset="20"/><path d="M149.1 239.7 L153.1 239.7 L157.1 239.7 L161.1 239.7 L165.1 239.7 L169.1 239.7 L173.1 239.7 L177.1 239.7 L181.1 239.7 L185.1 239.7 L189.1 239.7 L193.1 239.7 L197.1 239.7 L201.1 239.7 L205.1 239.7 L209.1 239.7 L213.1 239.7 L217.1 239.7 L221.1 239.7 L225.1 239.7 L229.1 239.7 L233.1 239.7 L237.1 239.7 L241.1 239.7 L245.1 239.7 L249.1 239.7 L253.1 239.7 L257.1 239.7 L261.1 239.7 L265.1 239.7 L269.1 239.8 L273.1 239.8 L277.1 239.8 L281.1 239.8 L285.1 239.8 L289.1 239.8 L293.1 239.8 L297.1 239.8 L301.1 239.9 L305.1 239.9 L309.1 239.9 L313.1 240 L317.1 240.1 L321.1 240.4 L325.1 241.5 L329.1 251.7 L333.1 260.7 L337.1 266.8 L341.1 271.5 L345.1 275.3 L349.1 278.6 L353.1 281.5 L357.1 284.1 L361.1 286.3 L365.1 288.4 L369.1 290.2 L373.1 291.9 L377.1 293.5 L381.1 294.9 L385.1 296.2 L389.1 297.5 L393.1 298.6 L397.1 299.6 L401.1 300.6 L405.1 301.5 L409.1 302.4 L413.1 303.2 L417.1 303.9 L421.1 304.7 L425.1 305.3 L429.1 306 L433.1 306.6 L437.1 307.1 L441.1 307.7 L445.1 308.2 L449.1 308.6 L453.1 309.1 L457.1 309.5 L461.1 310 L465.1 310.3 L469.1 310.7 L473.1 311.1 L477.1 311.4 L481.1 311.8" stroke-dasharray="13 4 11 2 17 3 10 3 13 2 11 3 13 3 17 3 13 4 17 3 13 3 21 2" stroke-dashoffset="8"/><path d="M149.1 242 L153.1 242 L157.1 242 L161.1 242 L165.1 242 L169.1 242 L173.1 242.1 L177.1 242.1 L181.1 242.1 L185.1 242.1 L189.1 242.1 L193.1 242.1 L197.1 242.1 L201.1 242.1 L205.1 242.2 L209.1 242.2 L213.1 242.2 L217.1 242.2 L221.1 242.2 L225.1 242.3 L229.1 242.3 L233.1 242.3 L237.1 242.3 L241.1 242.4 L245.1 242.4 L249.1 242.4 L253.1 242.5 L257.1 242.5 L261.1 242.6 L265.1 242.6 L269.1 242.7 L273.1 242.8 L277.1 242.9 L281.1 243 L285.1 243.1 L289.1 243.2 L293.1 243.4 L297.1 243.7 L301.1 244 L305.1 244.4 L309.1 245 L313.1 245.9 L317.1 247.5 L321.1 250.3 L325.1 255.3 L329.1 261.2 L333.1 266.6 L337.1 271.2 L341.1 275.1 L345.1 278.5 L349.1 281.5 L353.1 284.2 L357.1 286.6 L361.1 288.8 L365.1 290.7 L369.1 292.5 L373.1 294.1 L377.1 295.7 L381.1 297 L385.1 298.3 L389.1 299.5 L393.1 300.6 L397.1 301.7 L401.1 302.6 L405.1 303.6 L409.1 304.4 L413.1 305.2 L417.1 306 L421.1 306.7 L425.1 307.3 L429.1 308 L433.1 308.6 L437.1 309.1 L441.1 309.7 L445.1 310.2 L449.1 310.7 L453.1 311.1 L457.1 311.6 L461.1 312 L465.1 312.4 L469.1 312.8 L473.1 313.1 L477.1 313.5 L481.1 313.8" stroke-dasharray="19 4 17 4 17 3 20 3 12 3 12 3 15 3 9 3 9 2 19 3 15 3 9 2" stroke-dashoffset="12"/><path d="M149.1 244.6 L153.1 244.6 L157.1 244.6 L161.1 244.7 L165.1 244.7 L169.1 244.7 L173.1 244.7 L177.1 244.7 L181.1 244.8 L185.1 244.8 L189.1 244.8 L193.1 244.8 L197.1 244.9 L201.1 244.9 L205.1 244.9 L209.1 245 L213.1 245 L217.1 245 L221.1 245.1 L225.1 245.1 L229.1 245.2 L233.1 245.2 L237.1 245.3 L241.1 245.3 L245.1 245.4 L249.1 245.5 L253.1 245.6 L257.1 245.7 L261.1 245.8 L265.1 245.9 L269.1 246.1 L273.1 246.2 L277.1 246.4 L281.1 246.6 L285.1 246.9 L289.1 247.2 L293.1 247.6 L297.1 248.1 L301.1 248.7 L305.1 249.6 L309.1 250.8 L313.1 252.5 L317.1 255.1 L321.1 258.6 L325.1 263 L329.1 267.5 L333.1 271.7 L337.1 275.5 L341.1 278.9 L345.1 282 L349.1 284.7 L353.1 287.2 L357.1 289.4 L361.1 291.5 L365.1 293.3 L369.1 295 L373.1 296.6 L377.1 298.1 L381.1 299.4 L385.1 300.7 L389.1 301.9 L393.1 303 L397.1 304 L401.1 305 L405.1 305.9 L409.1 306.7 L413.1 307.5 L417.1 308.2 L421.1 309 L425.1 309.6 L429.1 310.3 L433.1 310.9 L437.1 311.4 L441.1 312 L445.1 312.5 L449.1 313 L453.1 313.4 L457.1 313.9 L461.1 314.3 L465.1 314.7 L469.1 315.1 L473.1 315.5 L477.1 315.8 L481.1 316.2" stroke-dasharray="14 4 14 3 9 3 12 3 11 2 14 4 10 4 13 4 19 3 12 4 21 2 10 3" stroke-dashoffset="2"/><path d="M149.1 247.8 L153.1 247.8 L157.1 247.9 L161.1 247.9 L165.1 247.9 L169.1 247.9 L173.1 248 L177.1 248 L181.1 248.1 L185.1 248.1 L189.1 248.1 L193.1 248.2 L197.1 248.2 L201.1 248.3 L205.1 248.3 L209.1 248.4 L213.1 248.5 L217.1 248.5 L221.1 248.6 L225.1 248.7 L229.1 248.7 L233.1 248.8 L237.1 248.9 L241.1 249 L245.1 249.2 L249.1 249.3 L253.1 249.4 L257.1 249.6 L261.1 249.8 L265.1 250 L269.1 250.2 L273.1 250.5 L277.1 250.8 L281.1 251.2 L285.1 251.6 L289.1 252.1 L293.1 252.8 L297.1 253.6 L301.1 254.6 L305.1 255.9 L309.1 257.7 L313.1 260 L317.1 262.9 L321.1 266.3 L325.1 269.9 L329.1 273.6 L333.1 277.1 L337.1 280.3 L341.1 283.3 L345.1 286 L349.1 288.5 L353.1 290.8 L357.1 292.8 L361.1 294.8 L365.1 296.5 L369.1 298.2 L373.1 299.7 L377.1 301.1 L381.1 302.4 L385.1 303.6 L389.1 304.8 L393.1 305.9 L397.1 306.9 L401.1 307.8 L405.1 308.7 L409.1 309.5 L413.1 310.3 L417.1 311.1 L421.1 311.8 L425.1 312.4 L429.1 313.1 L433.1 313.7 L437.1 314.2 L441.1 314.8 L445.1 315.3 L449.1 315.8 L453.1 316.3 L457.1 316.7 L461.1 317.1 L465.1 317.5 L469.1 317.9 L473.1 318.3 L477.1 318.7 L481.1 319" stroke-dasharray="20 4 15 3 20 4 11 3 20 4 19 3 9 4 19 4 20 4 11 4 21 4 18 2" stroke-dashoffset="18"/><path d="M149.1 250.8 L153.1 250.8 L157.1 250.9 L161.1 250.9 L165.1 251 L169.1 251 L173.1 251 L177.1 251.1 L181.1 251.1 L185.1 251.2 L189.1 251.3 L193.1 251.3 L197.1 251.4 L201.1 251.5 L205.1 251.5 L209.1 251.6 L213.1 251.7 L217.1 251.8 L221.1 251.9 L225.1 252 L229.1 252.1 L233.1 252.2 L237.1 252.4 L241.1 252.5 L245.1 252.7 L249.1 252.9 L253.1 253.1 L257.1 253.3 L261.1 253.6 L265.1 253.8 L269.1 254.2 L273.1 254.5 L277.1 255 L281.1 255.5 L285.1 256.1 L289.1 256.8 L293.1 257.7 L297.1 258.7 L301.1 260 L305.1 261.7 L309.1 263.7 L313.1 266.2 L317.1 269 L321.1 272.1 L325.1 275.4 L329.1 278.5 L333.1 281.6 L337.1 284.5 L341.1 287.1 L345.1 289.6 L349.1 291.9 L353.1 294 L357.1 296 L361.1 297.8 L365.1 299.5 L369.1 301.1 L373.1 302.5 L377.1 303.9 L381.1 305.2 L385.1 306.4 L389.1 307.5 L393.1 308.6 L397.1 309.5 L401.1 310.5 L405.1 311.4 L409.1 312.2 L413.1 313 L417.1 313.7 L421.1 314.4 L425.1 315.1 L429.1 315.7 L433.1 316.3 L437.1 316.9 L441.1 317.4 L445.1 317.9 L449.1 318.4 L453.1 318.9 L457.1 319.4 L461.1 319.8 L465.1 320.2 L469.1 320.6 L473.1 321 L477.1 321.3 L481.1 321.7" stroke-dasharray="15 4 17 2 19 2 19 4 19 3 16 3 9 4 21 2 20 4 17 2 19 4 10 4" stroke-dashoffset="8"/><path d="M149.1 254.3 L153.1 254.3 L157.1 254.4 L161.1 254.5 L165.1 254.5 L169.1 254.6 L173.1 254.6 L177.1 254.7 L181.1 254.8 L185.1 254.8 L189.1 254.9 L193.1 255 L197.1 255.1 L201.1 255.2 L205.1 255.3 L209.1 255.4 L213.1 255.5 L217.1 255.6 L221.1 255.8 L225.1 255.9 L229.1 256.1 L233.1 256.2 L237.1 256.4 L241.1 256.6 L245.1 256.8 L249.1 257.1 L253.1 257.3 L257.1 257.6 L261.1 258 L265.1 258.4 L269.1 258.8 L273.1 259.3 L277.1 259.8 L281.1 260.5 L285.1 261.3 L289.1 262.2 L293.1 263.3 L297.1 264.6 L301.1 266.1 L305.1 268 L309.1 270.2 L313.1 272.6 L317.1 275.3 L321.1 278.1 L325.1 281 L329.1 283.8 L333.1 286.5 L337.1 289 L341.1 291.4 L345.1 293.7 L349.1 295.8 L353.1 297.8 L357.1 299.6 L361.1 301.4 L365.1 303 L369.1 304.5 L373.1 305.9 L377.1 307.2 L381.1 308.4 L385.1 309.6 L389.1 310.7 L393.1 311.7 L397.1 312.7 L401.1 313.6 L405.1 314.5 L409.1 315.3 L413.1 316.1 L417.1 316.8 L421.1 317.5 L425.1 318.2 L429.1 318.8 L433.1 319.4 L437.1 320 L441.1 320.5 L445.1 321 L449.1 321.5 L453.1 322 L457.1 322.5 L461.1 322.9 L465.1 323.3 L469.1 323.7 L473.1 324.1 L477.1 324.5 L481.1 324.8" stroke-dasharray="10 4 19 3 21 2 18 3 10 4 11 3 13 3 18 4 11 2 16 2 16 3 19 2" stroke-dashoffset="6"/><path d="M149.1 257.6 L153.1 257.7 L157.1 257.7 L161.1 257.8 L165.1 257.9 L169.1 257.9 L173.1 258 L177.1 258.1 L181.1 258.2 L185.1 258.3 L189.1 258.4 L193.1 258.5 L197.1 258.6 L201.1 258.7 L205.1 258.8 L209.1 259 L213.1 259.1 L217.1 259.2 L221.1 259.4 L225.1 259.6 L229.1 259.8 L233.1 260 L237.1 260.2 L241.1 260.5 L245.1 260.7 L249.1 261 L253.1 261.4 L257.1 261.7 L261.1 262.2 L265.1 262.6 L269.1 263.2 L273.1 263.8 L277.1 264.4 L281.1 265.2 L285.1 266.2 L289.1 267.2 L293.1 268.5 L297.1 269.9 L301.1 271.6 L305.1 273.6 L309.1 275.7 L313.1 278.1 L317.1 280.6 L321.1 283.2 L325.1 285.8 L329.1 288.3 L333.1 290.8 L337.1 293.1 L341.1 295.4 L345.1 297.5 L349.1 299.4 L353.1 301.3 L357.1 303 L361.1 304.7 L365.1 306.2 L369.1 307.7 L373.1 309 L377.1 310.3 L381.1 311.5 L385.1 312.6 L389.1 313.7 L393.1 314.7 L397.1 315.7 L401.1 316.6 L405.1 317.4 L409.1 318.2 L413.1 319 L417.1 319.7 L421.1 320.4 L425.1 321.1 L429.1 321.7 L433.1 322.3 L437.1 322.9 L441.1 323.4 L445.1 323.9 L449.1 324.4 L453.1 324.9 L457.1 325.4 L461.1 325.8 L465.1 326.2 L469.1 326.6 L473.1 327 L477.1 327.4 L481.1 327.7" stroke-dasharray="16 2 13 4 10 4 16 3 15 3 12 2 18 2 11 4 13 3 11 4 19 4 13 2" stroke-dashoffset="11"/><path d="M149.1 261.5 L153.1 261.6 L157.1 261.7 L161.1 261.7 L165.1 261.8 L169.1 261.9 L173.1 262 L177.1 262.1 L181.1 262.2 L185.1 262.3 L189.1 262.4 L193.1 262.6 L197.1 262.7 L201.1 262.9 L205.1 263 L209.1 263.2 L213.1 263.3 L217.1 263.5 L221.1 263.7 L225.1 264 L229.1 264.2 L233.1 264.5 L237.1 264.7 L241.1 265 L245.1 265.4 L249.1 265.7 L253.1 266.2 L257.1 266.6 L261.1 267.1 L265.1 267.7 L269.1 268.3 L273.1 269 L277.1 269.9 L281.1 270.8 L285.1 271.9 L289.1 273.1 L293.1 274.5 L297.1 276 L301.1 277.8 L305.1 279.7 L309.1 281.9 L313.1 284.1 L317.1 286.4 L321.1 288.8 L325.1 291.1 L329.1 293.4 L333.1 295.7 L337.1 297.8 L341.1 299.9 L345.1 301.8 L349.1 303.6 L353.1 305.4 L357.1 307 L361.1 308.6 L365.1 310 L369.1 311.4 L373.1 312.7 L377.1 313.9 L381.1 315.1 L385.1 316.2 L389.1 317.2 L393.1 318.2 L397.1 319.2 L401.1 320 L405.1 320.9 L409.1 321.7 L413.1 322.4 L417.1 323.2 L421.1 323.9 L425.1 324.5 L429.1 325.1 L433.1 325.7 L437.1 326.3 L441.1 326.9 L445.1 327.4 L449.1 327.9 L453.1 328.4 L457.1 328.8 L461.1 329.3 L465.1 329.7 L469.1 330.1 L473.1 330.5 L477.1 330.9 L481.1 331.2" stroke-dasharray="14 4 14 2 14 2 14 3 15 2 12 2 20 3 13 3 10 4 15 4 10 3 15 3" stroke-dashoffset="1"/><path d="M149.1 267.1 L153.1 267.2 L157.1 267.3 L161.1 267.4 L165.1 267.5 L169.1 267.6 L173.1 267.8 L177.1 267.9 L181.1 268 L185.1 268.2 L189.1 268.3 L193.1 268.5 L197.1 268.6 L201.1 268.8 L205.1 269 L209.1 269.2 L213.1 269.5 L217.1 269.7 L221.1 270 L225.1 270.2 L229.1 270.5 L233.1 270.9 L237.1 271.2 L241.1 271.6 L245.1 272 L249.1 272.5 L253.1 273 L257.1 273.6 L261.1 274.2 L265.1 274.9 L269.1 275.7 L273.1 276.5 L277.1 277.5 L281.1 278.6 L285.1 279.8 L289.1 281.1 L293.1 282.6 L297.1 284.2 L301.1 286 L305.1 287.9 L309.1 289.8 L313.1 291.9 L317.1 294 L321.1 296.1 L325.1 298.2 L329.1 300.2 L333.1 302.2 L337.1 304.2 L341.1 306 L345.1 307.8 L349.1 309.4 L353.1 311.1 L357.1 312.6 L361.1 314 L365.1 315.4 L369.1 316.7 L373.1 317.9 L377.1 319.1 L381.1 320.2 L385.1 321.3 L389.1 322.3 L393.1 323.3 L397.1 324.2 L401.1 325 L405.1 325.9 L409.1 326.6 L413.1 327.4 L417.1 328.1 L421.1 328.8 L425.1 329.4 L429.1 330.1 L433.1 330.7 L437.1 331.2 L441.1 331.8 L445.1 332.3 L449.1 332.8 L453.1 333.3 L457.1 333.7 L461.1 334.2 L465.1 334.6 L469.1 335 L473.1 335.4 L477.1 335.8 L481.1 336.2" stroke-dasharray="21 4 9 4 17 4 12 2 9 4 16 4 21 3 19 3 16 2 17 3 11 4 15 3" stroke-dashoffset="9"/><path d="M149.1 275.7 L153.1 275.8 L157.1 276 L161.1 276.1 L165.1 276.2 L169.1 276.4 L173.1 276.5 L177.1 276.7 L181.1 276.9 L185.1 277.1 L189.1 277.3 L193.1 277.5 L197.1 277.7 L201.1 277.9 L205.1 278.2 L209.1 278.5 L213.1 278.8 L217.1 279.1 L221.1 279.4 L225.1 279.7 L229.1 280.1 L233.1 280.5 L237.1 281 L241.1 281.4 L245.1 282 L249.1 282.5 L253.1 283.1 L257.1 283.8 L261.1 284.5 L265.1 285.3 L269.1 286.2 L273.1 287.1 L277.1 288.2 L281.1 289.3 L285.1 290.6 L289.1 291.9 L293.1 293.3 L297.1 294.9 L301.1 296.5 L305.1 298.2 L309.1 299.9 L313.1 301.7 L317.1 303.6 L321.1 305.4 L325.1 307.2 L329.1 309 L333.1 310.8 L337.1 312.5 L341.1 314.1 L345.1 315.7 L349.1 317.3 L353.1 318.7 L357.1 320.2 L361.1 321.5 L365.1 322.8 L369.1 324.1 L373.1 325.2 L377.1 326.4 L381.1 327.5 L385.1 328.5 L389.1 329.5 L393.1 330.4 L397.1 331.3 L401.1 332.2 L405.1 333 L409.1 333.8 L413.1 334.6 L417.1 335.3 L421.1 336 L425.1 336.6 L429.1 337.3 L433.1 337.9 L437.1 338.5 L441.1 339 L445.1 339.6 L449.1 340.1 L453.1 340.6 L457.1 341.1 L461.1 341.5 L465.1 342 L469.1 342.4 L473.1 342.8 L477.1 343.2 L481.1 343.6" stroke-dasharray="11 3 10 3 17 4 17 3 16 3 21 4 15 3 17 3 12 2 11 3 17 2 14 3" stroke-dashoffset="11"/><path d="M149.1 284.3 L153.1 284.5 L157.1 284.6 L161.1 284.8 L165.1 285 L169.1 285.1 L173.1 285.3 L177.1 285.5 L181.1 285.8 L185.1 286 L189.1 286.2 L193.1 286.5 L197.1 286.8 L201.1 287 L205.1 287.3 L209.1 287.7 L213.1 288 L217.1 288.4 L221.1 288.7 L225.1 289.2 L229.1 289.6 L233.1 290.1 L237.1 290.6 L241.1 291.1 L245.1 291.7 L249.1 292.4 L253.1 293 L257.1 293.8 L261.1 294.6 L265.1 295.4 L269.1 296.3 L273.1 297.3 L277.1 298.4 L281.1 299.6 L285.1 300.8 L289.1 302.1 L293.1 303.4 L297.1 304.9 L301.1 306.4 L305.1 307.9 L309.1 309.5 L313.1 311.1 L317.1 312.7 L321.1 314.4 L325.1 316 L329.1 317.6 L333.1 319.2 L337.1 320.7 L341.1 322.2 L345.1 323.7 L349.1 325.1 L353.1 326.5 L357.1 327.8 L361.1 329.1 L365.1 330.3 L369.1 331.5 L373.1 332.6 L377.1 333.7 L381.1 334.8 L385.1 335.8 L389.1 336.7 L393.1 337.7 L397.1 338.6 L401.1 339.4 L405.1 340.2 L409.1 341 L413.1 341.8 L417.1 342.5 L421.1 343.2 L425.1 343.9 L429.1 344.5 L433.1 345.1 L437.1 345.7 L441.1 346.3 L445.1 346.9 L449.1 347.4 L453.1 347.9 L457.1 348.4 L461.1 348.9 L465.1 349.3 L469.1 349.8 L473.1 350.2 L477.1 350.6 L481.1 351" stroke-dasharray="14 2 16 3 18 3 11 4 17 3 10 3 12 4 15 4 15 3 9 3 9 4 20 4" stroke-dashoffset="18"/><path d="M149.1 292.9 L153.1 293.1 L157.1 293.3 L161.1 293.5 L165.1 293.7 L169.1 293.9 L173.1 294.1 L177.1 294.4 L181.1 294.6 L185.1 294.9 L189.1 295.2 L193.1 295.5 L197.1 295.8 L201.1 296.1 L205.1 296.4 L209.1 296.8 L213.1 297.2 L217.1 297.6 L221.1 298 L225.1 298.5 L229.1 299 L233.1 299.5 L237.1 300.1 L241.1 300.7 L245.1 301.3 L249.1 302 L253.1 302.7 L257.1 303.5 L261.1 304.4 L265.1 305.2 L269.1 306.2 L273.1 307.2 L277.1 308.2 L281.1 309.4 L285.1 310.6 L289.1 311.8 L293.1 313.1 L297.1 314.4 L301.1 315.8 L305.1 317.2 L309.1 318.7 L313.1 320.1 L317.1 321.6 L321.1 323.1 L325.1 324.6 L329.1 326 L333.1 327.5 L337.1 328.9 L341.1 330.3 L345.1 331.6 L349.1 333 L353.1 334.2 L357.1 335.5 L361.1 336.7 L365.1 337.9 L369.1 339 L373.1 340.1 L377.1 341.1 L381.1 342.2 L385.1 343.1 L389.1 344.1 L393.1 345 L397.1 345.9 L401.1 346.7 L405.1 347.5 L409.1 348.3 L413.1 349.1 L417.1 349.8 L421.1 350.5 L425.1 351.1 L429.1 351.8 L433.1 352.4 L437.1 353 L441.1 353.6 L445.1 354.2 L449.1 354.7 L453.1 355.2 L457.1 355.7 L461.1 356.2 L465.1 356.7 L469.1 357.2 L473.1 357.6 L477.1 358 L481.1 358.4" stroke-dasharray="12 3 11 4 19 2 20 4 10 4 21 2 9 3 12 4 9 3 11 3 17 4 20 2" stroke-dashoffset="3"/><path d="M149.1 302.9 L153.1 303.1 L157.1 303.3 L161.1 303.6 L165.1 303.8 L169.1 304.1 L173.1 304.3 L177.1 304.6 L181.1 304.9 L185.1 305.2 L189.1 305.5 L193.1 305.9 L197.1 306.2 L201.1 306.6 L205.1 307 L209.1 307.4 L213.1 307.8 L217.1 308.3 L221.1 308.8 L225.1 309.3 L229.1 309.8 L233.1 310.4 L237.1 311 L241.1 311.7 L245.1 312.4 L249.1 313.1 L253.1 313.9 L257.1 314.7 L261.1 315.5 L265.1 316.4 L269.1 317.4 L273.1 318.4 L277.1 319.4 L281.1 320.5 L285.1 321.6 L289.1 322.8 L293.1 324 L297.1 325.3 L301.1 326.5 L305.1 327.8 L309.1 329.2 L313.1 330.5 L317.1 331.8 L321.1 333.2 L325.1 334.5 L329.1 335.8 L333.1 337.1 L337.1 338.4 L341.1 339.7 L345.1 340.9 L349.1 342.2 L353.1 343.4 L357.1 344.5 L361.1 345.7 L365.1 346.7 L369.1 347.8 L373.1 348.9 L377.1 349.9 L381.1 350.8 L385.1 351.8 L389.1 352.7 L393.1 353.6 L397.1 354.4 L401.1 355.2 L405.1 356 L409.1 356.8 L413.1 357.5 L417.1 358.3 L421.1 358.9 L425.1 359.6 L429.1 360.3 L433.1 360.9 L437.1 361.5 L441.1 362.1 L445.1 362.6 L449.1 363.2 L453.1 363.7 L457.1 364.2 L461.1 364.7 L465.1 365.2 L469.1 365.7 L473.1 366.1 L477.1 366.6 L481.1 367" stroke-dasharray="14 3 16 4 12 4 12 2 15 3 9 2 12 4 19 4 10 3 12 4 14 3 16 2" stroke-dashoffset="10"/><path d="M149.1 315.7 L153.1 316 L157.1 316.2 L161.1 316.5 L165.1 316.8 L169.1 317.1 L173.1 317.4 L177.1 317.7 L181.1 318.1 L185.1 318.4 L189.1 318.8 L193.1 319.2 L197.1 319.6 L201.1 320.1 L205.1 320.5 L209.1 321 L213.1 321.5 L217.1 322 L221.1 322.6 L225.1 323.2 L229.1 323.8 L233.1 324.4 L237.1 325.1 L241.1 325.8 L245.1 326.5 L249.1 327.3 L253.1 328.1 L257.1 329 L261.1 329.8 L265.1 330.8 L269.1 331.7 L273.1 332.7 L277.1 333.7 L281.1 334.8 L285.1 335.9 L289.1 337 L293.1 338.1 L297.1 339.2 L301.1 340.4 L305.1 341.6 L309.1 342.8 L313.1 344 L317.1 345.1 L321.1 346.3 L325.1 347.5 L329.1 348.7 L333.1 349.8 L337.1 351 L341.1 352.1 L345.1 353.2 L349.1 354.3 L353.1 355.3 L357.1 356.3 L361.1 357.3 L365.1 358.3 L369.1 359.3 L373.1 360.2 L377.1 361.1 L381.1 362 L385.1 362.8 L389.1 363.7 L393.1 364.5 L397.1 365.3 L401.1 366 L405.1 366.7 L409.1 367.5 L413.1 368.1 L417.1 368.8 L421.1 369.5 L425.1 370.1 L429.1 370.7 L433.1 371.3 L437.1 371.9 L441.1 372.4 L445.1 373 L449.1 373.5 L453.1 374 L457.1 374.5 L461.1 375 L465.1 375.4 L469.1 375.9 L473.1 376.3 L477.1 376.7 L481.1 377.1" stroke-dasharray="21 3 12 4 12 3 21 3 10 4 16 4 11 3 16 4 19 2 18 3 15 2 12 2" stroke-dashoffset="19"/><path d="M149.1 327.5 L153.1 327.8 L157.1 328.1 L161.1 328.4 L165.1 328.7 L169.1 329.1 L173.1 329.4 L177.1 329.8 L181.1 330.2 L185.1 330.6 L189.1 331 L193.1 331.5 L197.1 331.9 L201.1 332.4 L205.1 332.9 L209.1 333.4 L213.1 334 L217.1 334.6 L221.1 335.2 L225.1 335.8 L229.1 336.4 L233.1 337.1 L237.1 337.8 L241.1 338.5 L245.1 339.3 L249.1 340.1 L253.1 340.9 L257.1 341.8 L261.1 342.7 L265.1 343.6 L269.1 344.5 L273.1 345.4 L277.1 346.4 L281.1 347.4 L285.1 348.5 L289.1 349.5 L293.1 350.5 L297.1 351.6 L301.1 352.7 L305.1 353.7 L309.1 354.8 L313.1 355.9 L317.1 357 L321.1 358 L325.1 359.1 L329.1 360.1 L333.1 361.2 L337.1 362.2 L341.1 363.2 L345.1 364.2 L349.1 365.2 L353.1 366.1 L357.1 367.1 L361.1 368 L365.1 368.9 L369.1 369.7 L373.1 370.6 L377.1 371.4 L381.1 372.2 L385.1 373 L389.1 373.8 L393.1 374.5 L397.1 375.2 L401.1 375.9 L405.1 376.6 L409.1 377.3 L413.1 377.9 L417.1 378.6 L421.1 379.2 L425.1 379.8 L429.1 380.4 L433.1 380.9 L437.1 381.5 L441.1 382 L445.1 382.5 L449.1 383 L453.1 383.5 L457.1 384 L461.1 384.4 L465.1 384.9 L469.1 385.3 L473.1 385.7 L477.1 386.1 L481.1 386.5" stroke-dasharray="11 3 12 3 19 4 20 4 9 3 19 4 14 3 16 3 10 2 10 3 10 3 15 2" stroke-dashoffset="17"/></g>
<path fill="#14140c" fill-opacity="0.72" d="M177.1 153.5 L173.8 152.8 L174 154.9Z M225.1 148 L221.8 147.4 L222.1 149.5Z M257.1 142.2 L253.8 141.9 L254.2 143.9Z M305.1 130.1 L301.7 129.9 L302.3 131.9Z M337.1 120.8 L333.7 120.7 L334.3 122.7Z M373.1 111.3 L369.7 111.1 L370.2 113.1Z M421.1 101.4 L417.8 100.9 L418.1 103Z M457.1 95.9 L453.8 95.3 L454.1 97.4Z M169.1 164.4 L165.8 163.5 L166 165.6Z M209.1 160.6 L205.8 159.9 L206 162Z M245.1 155.2 L241.8 154.8 L242.1 156.8Z M297.1 142.5 L293.7 142.4 L294.3 144.4Z M329.1 132.5 L325.7 132.4 L326.4 134.4Z M369.1 120.8 L365.7 120.6 L366.3 122.6Z M413.1 110.8 L409.8 110.4 L410.2 112.5Z M453.1 104.3 L449.8 103.7 L450.1 105.7Z M185.1 174.3 L181.8 173.5 L182 175.6Z M245.1 167 L241.8 166.5 L242.1 168.6Z M289.1 156.4 L285.7 156.3 L286.3 158.3Z M337.1 140.1 L333.7 140.1 L334.4 142.1Z M369.1 130 L365.7 129.9 L366.3 131.9Z M421.1 117.9 L417.8 117.5 L418.2 119.5Z M473.1 110 L469.8 109.4 L470.1 111.5Z M177.1 184.2 L173.8 183.3 L174 185.4Z M237.1 178.3 L233.8 177.7 L234.1 179.8Z M293.1 165.1 L289.7 165.1 L290.4 167.1Z M349.1 144.2 L345.7 144.3 L346.4 146.3Z M389.1 132.1 L385.7 131.9 L386.3 133.9Z M433.1 122.8 L429.8 122.3 L430.1 124.4Z M477.1 116.5 L473.8 115.8 L474 117.9Z M177.1 194.4 L173.9 193.6 L174 195.7Z M233.1 189.9 L229.8 189.2 L230 191.3Z M277.1 181.7 L273.7 181.5 L274.3 183.5Z M333.1 159.9 L329.7 160.2 L330.6 162.1Z M389.1 140.1 L385.7 139.9 L386.3 141.9Z M441.1 129 L437.8 128.5 L438.1 130.6Z M157.1 204 L153.9 203.1 L153.9 205.2Z M197.1 202.3 L193.8 201.4 L194 203.5Z M241.1 198.6 L237.8 197.9 L238 200Z M289.1 188.5 L285.7 188.5 L286.4 190.5Z M345.1 162.9 L341.8 163.3 L342.6 165.2Z M393.1 145.8 L389.7 145.6 L390.3 147.6Z M437.1 136.2 L433.8 135.7 L434.1 137.8Z M473.1 130.9 L469.8 130.3 L470.1 132.4Z M173.1 209.6 L169.9 208.6 L169.9 210.7Z M233.1 206.3 L229.8 205.5 L230 207.6Z M277.1 199.7 L273.7 199.4 L274.2 201.4Z M313.1 185.8 L309.8 186.3 L310.7 188.2Z M357.1 163.1 L353.7 163.5 L354.6 165.4Z M401.1 148.3 L397.7 148.1 L398.3 150.1Z M453.1 138.1 L449.8 137.5 L450.1 139.6Z M161.1 216.5 L157.9 215.6 L157.9 217.7Z M209.1 215 L205.9 214.1 L205.9 216.2Z M253.1 211.9 L249.8 211.2 L250 213.2Z M297.1 202.2 L293.7 202.4 L294.5 204.3Z M349.1 172.9 L345.8 173.5 L346.8 175.3Z M397.1 154.3 L393.7 154.2 L394.3 156.2Z M429.1 146.9 L425.8 146.5 L426.2 148.6Z M161.1 221 L157.9 220 L157.9 222.1Z M217.1 219.4 L213.9 218.5 L213.9 220.6Z M277.1 214.1 L273.8 213.6 L274.1 215.7Z M325.1 192.6 L321.9 193.6 L323.1 195.3Z M361.1 170.9 L357.8 171.4 L358.7 173.3Z M405.1 155.5 L401.7 155.3 L402.3 157.3Z M441.1 148 L437.8 147.5 L438.1 149.6Z M473.1 143.4 L469.8 142.8 L470.1 144.8Z M169.1 224.3 L165.9 223.3 L165.9 225.4Z M229.1 222.7 L225.9 221.8 L225.9 223.9Z M277.1 218.7 L273.8 218.1 L274.1 220.2Z M321.1 200.4 L317.9 201.4 L319.1 203.1Z M361.1 173.9 L357.8 174.4 L358.7 176.3Z M393.1 161.4 L389.7 161.4 L390.4 163.4Z M437.1 151.2 L433.8 150.7 L434.1 152.8Z M473.1 145.9 L469.8 145.3 L470.1 147.3Z M173.1 227.9 L169.9 226.9 L169.9 229Z M205.1 227.4 L201.9 226.4 L201.9 228.5Z M265.1 224.9 L261.8 224.1 L262 226.2Z M297.1 219.8 L293.7 219.7 L294.3 221.7Z M333.1 195.9 L330 197.2 L331.3 198.8Z M385.1 166.8 L381.7 166.9 L382.5 168.9Z M433.1 154.5 L429.8 154.1 L430.2 156.1Z M469.1 149 L465.8 148.4 L466.1 150.5Z M189.1 231.1 L185.9 230.1 L185.9 232.2Z M225.1 230.6 L221.9 229.6 L221.9 231.7Z M277.1 228.3 L273.8 227.5 L274 229.6Z M325.1 208.6 L322.1 210.1 L323.6 211.6Z M353.1 184.7 L349.9 185.6 L351 187.4Z M405.1 163.1 L401.7 163 L402.3 165Z M465.1 151.9 L461.8 151.3 L462.1 153.4Z M169.1 234.7 L165.9 233.7 L165.9 235.8Z M221.1 234.3 L217.9 233.3 L217.9 235.4Z M269.1 233.3 L265.9 232.3 L265.9 234.4Z M301.1 230.5 L297.8 230 L298.1 232.1Z M349.1 190.8 L345.9 192 L347.2 193.7Z M401.1 166.7 L397.7 166.6 L398.3 168.6Z M461.1 154.8 L457.8 154.2 L458.1 156.3Z M161.1 237 L157.9 235.9 L157.9 238Z M201.1 236.8 L197.9 235.8 L197.9 237.9Z M253.1 236.5 L249.9 235.4 L249.9 237.5Z M293.1 235.3 L289.8 234.5 L290 236.6Z M329.1 215.9 L326.5 218 L328.3 219.1Z M353.1 190.2 L349.9 191.3 L351.2 192.9Z M381.1 175.1 L377.7 175.4 L378.6 177.3Z M441.1 159.4 L437.8 158.9 L438.1 161Z M157.1 239.7 L153.9 238.7 L153.9 240.8Z M189.1 239.7 L185.9 238.7 L185.9 240.8Z M237.1 239.7 L233.9 238.7 L233.9 240.8Z M297.1 239.8 L293.9 238.8 L293.9 240.9Z M333.1 260.7 L332.8 257.4 L330.8 258.2Z M361.1 286.3 L358.8 283.8 L357.8 285.7Z M405.1 301.5 L402.2 299.8 L401.7 301.8Z M457.1 309.5 L454 308.1 L453.8 310.2Z M185.1 242.1 L181.9 241 L181.9 243.1Z M237.1 242.3 L233.9 241.3 L233.9 243.4Z M277.1 242.9 L273.9 241.7 L273.9 243.8Z M317.1 247.5 L314.5 245.3 L313.7 247.3Z M345.1 278.5 L343.3 275.7 L342 277.3Z M385.1 298.3 L382.4 296.4 L381.7 298.4Z M421.1 306.7 L418.1 305.1 L417.8 307.1Z M465.1 312.4 L462 311 L461.8 313.1Z M161.1 244.7 L157.9 243.6 L157.9 245.7Z M209.1 245 L205.9 243.9 L205.9 246Z M253.1 245.6 L249.9 244.5 L249.9 246.6Z M293.1 247.6 L290 246.2 L289.8 248.3Z M337.1 275.5 L335.5 272.6 L334.1 274.1Z M365.1 293.3 L362.6 291 L361.8 292.9Z M425.1 309.6 L422.1 308.1 L421.8 310.1Z M481.1 316.2 L478 314.8 L477.8 316.9Z M185.1 248.1 L181.9 247 L181.9 249.1Z M237.1 248.9 L233.9 247.8 L233.9 249.9Z M297.1 253.6 L294.2 251.9 L293.8 254Z M341.1 283.3 L339.2 280.5 L337.9 282.2Z M373.1 299.7 L370.5 297.6 L369.7 299.5Z M405.1 308.7 L402.2 307 L401.7 309Z M457.1 316.7 L454 315.3 L453.8 317.4Z M185.1 251.2 L181.9 250.1 L181.9 252.2Z M241.1 252.5 L237.9 251.4 L237.9 253.5Z M281.1 255.5 L278.1 254 L277.8 256.1Z M329.1 278.5 L327.3 275.7 L325.9 277.4Z M361.1 297.8 L358.6 295.5 L357.8 297.4Z M409.1 312.2 L406.2 310.5 L405.8 312.6Z M453.1 318.9 L450 317.5 L449.8 319.6Z M181.1 254.8 L177.9 253.7 L177.9 255.8Z M221.1 255.8 L217.9 254.6 L217.9 256.7Z M269.1 258.8 L266 257.4 L265.8 259.5Z M313.1 272.6 L310.9 270 L309.8 271.8Z M353.1 297.8 L350.7 295.4 L349.8 297.3Z M385.1 309.6 L382.3 307.7 L381.7 309.7Z M441.1 320.5 L438.1 319 L437.8 321.1Z M477.1 324.5 L474 323.1 L473.8 325.2Z M165.1 257.9 L161.9 256.8 L161.9 258.9Z M225.1 259.6 L221.9 258.4 L221.9 260.5Z M273.1 263.8 L270.1 262.2 L269.8 264.3Z M305.1 273.6 L302.7 271.2 L301.8 273.1Z M333.1 290.8 L330.9 288.2 L329.8 290Z M377.1 310.3 L374.4 308.3 L373.7 310.3Z M421.1 320.4 L418.1 318.8 L417.8 320.9Z M461.1 325.8 L458 324.4 L457.8 326.5Z M165.1 261.8 L161.9 260.7 L161.9 262.8Z M197.1 262.7 L193.9 261.6 L193.9 263.7Z M249.1 265.7 L246 264.4 L245.8 266.5Z M297.1 276 L294.5 273.9 L293.7 275.8Z M329.1 293.4 L326.9 290.9 L325.8 292.7Z M385.1 316.2 L382.3 314.3 L381.7 316.4Z M429.1 325.1 L426.1 323.6 L425.8 325.7Z M469.1 330.1 L466 328.7 L465.8 330.8Z M165.1 267.5 L161.9 266.4 L161.9 268.5Z M221.1 270 L218 268.7 L217.8 270.8Z M281.1 278.6 L278.3 276.7 L277.7 278.7Z M317.1 294 L314.8 291.6 L313.8 293.4Z M365.1 315.4 L362.4 313.4 L361.7 315.4Z M405.1 325.9 L402.2 324.2 L401.8 326.2Z M453.1 333.3 L450 331.9 L449.8 333.9Z M165.1 276.2 L161.9 275.1 L161.9 277.2Z M213.1 278.8 L210 277.5 L209.8 279.6Z M273.1 287.1 L270.2 285.4 L269.7 287.4Z M325.1 307.2 L322.6 304.9 L321.8 306.8Z M365.1 322.8 L362.4 320.8 L361.7 322.8Z M409.1 333.8 L406.2 332.2 L405.8 334.2Z M457.1 341.1 L454 339.6 L453.8 341.7Z M173.1 285.3 L170 284.1 L169.9 286.2Z M209.1 287.7 L206 286.4 L205.8 288.4Z M269.1 296.3 L266.2 294.6 L265.7 296.7Z M325.1 316 L322.5 313.8 L321.7 315.7Z M369.1 331.5 L366.3 329.6 L365.7 331.6Z M413.1 341.8 L410.2 340.2 L409.8 342.2Z M457.1 348.4 L454.1 347 L453.8 349Z M157.1 293.3 L154 292.1 L153.9 294.2Z M205.1 296.4 L202 295.1 L201.8 297.2Z M253.1 302.7 L250.1 301.1 L249.8 303.2Z M297.1 314.4 L294.4 312.4 L293.7 314.4Z M333.1 327.5 L330.4 325.4 L329.7 327.4Z M381.1 342.2 L378.3 340.4 L377.7 342.4Z M413.1 349.1 L410.1 347.4 L409.8 349.5Z M453.1 355.2 L450.1 353.8 L449.8 355.9Z M181.1 304.9 L178 303.6 L177.8 305.7Z M225.1 309.3 L222.1 307.8 L221.8 309.9Z M269.1 317.4 L266.2 315.6 L265.7 317.6Z M301.1 326.5 L298.4 324.6 L297.7 326.6Z M341.1 339.7 L338.4 337.7 L337.7 339.7Z M397.1 354.4 L394.2 352.7 L393.8 354.8Z M429.1 360.3 L426.1 358.7 L425.8 360.8Z M477.1 366.6 L474 365.2 L473.8 367.3Z M161.1 316.5 L158 315.2 L157.8 317.3Z M193.1 319.2 L190 317.9 L189.8 319.9Z M225.1 323.2 L222.1 321.7 L221.8 323.7Z M269.1 331.7 L266.2 330 L265.7 332Z M325.1 347.5 L322.3 345.6 L321.7 347.6Z M381.1 362 L378.2 360.3 L377.7 362.3Z M433.1 371.3 L430.1 369.8 L429.8 371.9Z M189.1 331 L186 329.7 L185.8 331.7Z M225.1 335.8 L222.1 334.3 L221.8 336.3Z M265.1 343.6 L262.2 341.8 L261.7 343.9Z M321.1 358 L318.3 356.2 L317.7 358.2Z M377.1 371.4 L374.2 369.7 L373.8 371.8Z M421.1 379.2 L418.1 377.7 L417.8 379.7Z M453.1 383.5 L450.1 382.1 L449.8 384.1Z"/>
<path fill="#fff" stroke="#333" stroke-width="0.9" d="M293.3 239.5 L293.3 238.1 L293.4 236.7 L293.6 235.3 L293.8 234 L294.1 232.6 L294.4 231.2 L294.8 229.9 L295.3 228.5 L295.8 227.2 L296.4 225.8 L297.1 224.5 L297.8 223.1 L298.6 221.8 L299.4 220.5 L300.3 219.1 L301.3 217.8 L302.3 216.5 L303.4 215.2 L304.6 213.9 L305.8 212.6 L307.1 211.3 L308.4 210 L309.8 208.7 L311.3 207.5 L312.8 206.2 L314.4 204.9 L316.1 203.7 L317.8 202.4 L319.6 201.1 L321.4 199.9 L323.3 198.7 L325.3 197.4 L327.3 196.2 L329.4 195 L331.6 193.8 L333.8 192.6 L336.1 191.4 L338.4 190.2 L340.8 189 L343.3 187.8 L345.8 186.6 L348.4 185.4 L351.1 184.3 L353.8 183.1 L356.6 182 L359.4 180.8 L362.3 179.7 L365.3 178.6 L368.3 177.4 L371.4 176.3 L374.6 175.2 L377.8 174.1 L381.1 173 L384.4 171.9 L387.8 170.9 L391.3 169.8 L394.8 168.7 L398.4 167.7 L402.1 166.6 L405.8 165.6 L409.6 164.6 L413.4 163.6 L417.3 162.6 L421.3 161.6 L425.3 160.6 L429.4 159.6 L433.6 158.6 L437.8 157.6 L442.1 156.7 L446.4 155.7 L450.8 154.8 L455.3 153.9 L459.8 153 L464.4 152.1 L469.1 151.2 L473.8 150.3 L478.6 149.4 L483.4 148.6 L488.3 147.7 L493.3 146.9 L485.3 146.9 L485.3 332.1 L493.3 332.1 L488.3 331.3 L483.4 330.4 L478.6 329.6 L473.8 328.7 L469.1 327.8 L464.4 326.9 L459.8 326 L455.3 325.1 L450.8 324.2 L446.4 323.3 L442.1 322.3 L437.8 321.4 L433.6 320.4 L429.4 319.4 L425.3 318.4 L421.3 317.4 L417.3 316.4 L413.4 315.4 L409.6 314.4 L405.8 313.4 L402.1 312.4 L398.4 311.3 L394.8 310.3 L391.3 309.2 L387.8 308.1 L384.4 307.1 L381.1 306 L377.8 304.9 L374.6 303.8 L371.4 302.7 L368.3 301.6 L365.3 300.4 L362.3 299.3 L359.4 298.2 L356.6 297 L353.8 295.9 L351.1 294.7 L348.4 293.6 L345.8 292.4 L343.3 291.2 L340.8 290 L338.4 288.8 L336.1 287.6 L333.8 286.4 L331.6 285.2 L329.4 284 L327.3 282.8 L325.3 281.6 L323.3 280.3 L321.4 279.1 L319.6 277.9 L317.8 276.6 L316.1 275.3 L314.4 274.1 L312.8 272.8 L311.3 271.5 L309.8 270.3 L308.4 269 L307.1 267.7 L305.8 266.4 L304.6 265.1 L303.4 263.8 L302.3 262.5 L301.3 261.2 L300.3 259.9 L299.4 258.5 L298.6 257.2 L297.8 255.9 L297.1 254.5 L296.4 253.2 L295.8 251.8 L295.3 250.5 L294.8 249.1 L294.4 247.8 L294.1 246.4 L293.8 245 L293.6 243.7 L293.4 242.3 L293.3 240.9 L293.3 239.5Z"/>
</g>
<path fill="none" stroke="#6b6a1e" stroke-width="1" d="M149.1 80.1 L149.1 370.3 L479.3 370.3"/>
<path fill="none" stroke="#8a5a20" stroke-width="0.8" d="M479.3 80.1 L479.3 370.3"/>
<rect x="583.8" y="73.8" width="26.2" height="10.7" fill="#E4171D"/>
<rect x="583.8" y="84.2" width="26.2" height="21.2" fill="#E8501A"/>
<rect x="583.8" y="105.1" width="26.2" height="21.2" fill="#F08A1D"/>
<rect x="583.8" y="125.9" width="26.2" height="21.2" fill="#F5D122"/>
<rect x="583.8" y="146.8" width="26.2" height="21.2" fill="#CDDC35"/>
<rect x="583.8" y="167.6" width="26.2" height="21.2" fill="#98C828"/>
<rect x="583.8" y="188.5" width="26.2" height="21.2" fill="#74B82E"/>
<rect x="583.8" y="209.4" width="26.2" height="21.2" fill="#68B436"/>
<rect x="583.8" y="230.2" width="26.2" height="21.2" fill="#66B850"/>
<rect x="583.8" y="251.1" width="26.2" height="21.2" fill="#6CBE82"/>
<rect x="583.8" y="271.9" width="26.2" height="21.2" fill="#6EC4BE"/>
<rect x="583.8" y="292.8" width="26.2" height="21.2" fill="#4EBCE2"/>
<rect x="583.8" y="313.7" width="26.2" height="21.2" fill="#3484C8"/>
<rect x="583.8" y="334.5" width="26.2" height="21.2" fill="#2258A8"/>
<rect x="583.8" y="355.4" width="26.2" height="10.7" fill="#1E4C9C"/>
<path fill="none" stroke="#3a2a10" stroke-opacity="0.6" stroke-width="0.9" d="M583.8 84.2 H610M583.8 105.1 H610M583.8 125.9 H610M583.8 146.8 H610M583.8 167.6 H610M583.8 188.5 H610M583.8 209.4 H610M583.8 230.2 H610M583.8 251.1 H610M583.8 271.9 H610M583.8 292.8 H610M583.8 313.7 H610M583.8 334.5 H610M583.8 355.4 H610"/>
<rect x="583.8" y="73.8" width="26.2" height="292" fill="none" stroke="#5a4a1a" stroke-opacity="0.8" stroke-width="0.9"/>
<g font-family="'Liberation Serif', serif" font-size="24.5" fill="#0a0a0a" stroke="#0a0a0a" stroke-width="0.25">
<text x="618" y="94.5">17</text>
<text x="618" y="115.1">16</text>
<text x="618" y="135.7">15</text>
<text x="618" y="156.4">14</text>
<text x="618" y="177">13</text>
<text x="618" y="197.6">12</text>
<text x="618" y="218.2">11</text>
<text x="618" y="238.8">10</text>
<text x="618" y="259.5">9</text>
<text x="618" y="280.1">8</text>
<text x="618" y="300.7">7</text>
<text x="618" y="321.3">6</text>
<text x="618" y="341.9">5</text>
<text x="618" y="362.6">4</text>
</g>
<g font-family="'Liberation Serif', serif" font-size="26" fill="#0a0a0a" stroke="#0a0a0a" stroke-width="0.3"><text x="537.2" y="59.2" font-size="24.5" font-style="italic" font-weight="bold">u</text><text x="552" y="69.3" font-size="24">d</text><text x="568.4" y="59.2">/</text><text x="582.6" y="59.2">(m/s)</text></g>
<path fill="none" stroke="#000" stroke-width="2.6" d="M94.6 18 V553.3"/>
<path fill="none" stroke="#000" stroke-width="2.8" d="M93.3 551.9 H680.2"/>
<path fill="none" stroke="#000" stroke-width="2.7" d="M95 511.9 H108M95 460 H108M95 408.1 H108M95 356.2 H108M95 304.3 H108M95 252.4 H108M95 200.6 H108M95 148.7 H108M95 96.8 H108M95 44.9 H108M142.7 551 V538.8M246.5 551 V538.8M350.3 551 V538.8M454 551 V538.8M557.8 551 V538.8M661.6 551 V538.8"/>
<path fill="none" stroke="#2a2410" stroke-width="1.1" stroke-opacity="0.85" d="M95 543 H102.8M95 532.6 H102.8M95 522.3 H102.8M95 501.5 H102.8M95 491.1 H102.8M95 480.8 H102.8M95 470.4 H102.8M95 449.6 H102.8M95 439.2 H102.8M95 428.9 H102.8M95 418.5 H102.8M95 397.7 H102.8M95 387.4 H102.8M95 377 H102.8M95 366.6 H102.8M95 345.8 H102.8M95 335.5 H102.8M95 325.1 H102.8M95 314.7 H102.8M95 294 H102.8M95 283.6 H102.8M95 273.2 H102.8M95 262.8 H102.8M95 242.1 H102.8M95 231.7 H102.8M95 221.3 H102.8M95 210.9 H102.8M95 190.2 H102.8M95 179.8 H102.8M95 169.4 H102.8M95 159 H102.8M95 138.3 H102.8M95 127.9 H102.8M95 117.5 H102.8M95 107.1 H102.8M95 86.4 H102.8M95 76 H102.8M95 65.6 H102.8M95 34.5 H102.8M95 24.1 H102.8M116.8 551 V544.2M168.6 551 V544.2M194.6 551 V544.2M220.5 551 V544.2M272.4 551 V544.2M298.4 551 V544.2M324.3 551 V544.2M376.2 551 V544.2M402.1 551 V544.2M428.1 551 V544.2M480 551 V544.2M505.9 551 V544.2M531.9 551 V544.2M583.8 551 V544.2M609.7 551 V544.2M635.7 551 V544.2"/>
<g font-family="'Liberation Serif', serif" font-size="37" fill="#0a0a0a" stroke="#0a0a0a" stroke-width="0.35">
<text x="86.8" y="56.7" text-anchor="end">0.8</text>
<text x="86.8" y="107.8" text-anchor="end">0.7</text>
<text x="86.8" y="158.9" text-anchor="end">0.6</text>
<text x="86.8" y="210" text-anchor="end">0.5</text>
<text x="86.8" y="261.1" text-anchor="end">0.4</text>
<text x="86.8" y="312.2" text-anchor="end">0.3</text>
<text x="86.8" y="363.3" text-anchor="end">0.2</text>
<text x="84.2" y="414.4" text-anchor="end">0.1</text>
<text x="86.8" y="465.5" text-anchor="end">0</text>
<text x="84.2" y="516.6" text-anchor="end">−0.1</text>
<text x="143" y="584" text-anchor="middle">0</text>
<text x="249.1" y="584" text-anchor="middle">0.2</text>
<text x="351.9" y="584" text-anchor="middle">0.4</text>
<text x="455.6" y="584" text-anchor="middle">0.6</text>
<text x="558.2" y="584" text-anchor="middle">0.8</text>
<text x="663.6" y="584" text-anchor="middle">1</text>
</g>
<g font-family="'Liberation Serif', serif" font-size="33.5" fill="#0a0a0a" stroke="#0a0a0a" stroke-width="0.3"><text x="367.4" y="610.4" font-style="italic">x</text><text x="393.4" y="611" font-size="38.5">/</text><text x="413.8" y="610.4">m</text><g transform="translate(24.6 0) rotate(-90)"><text x="-308.8" y="0" font-style="italic">y</text><text x="-286.4" y="0.6" font-size="38.5">/</text><text x="-269.4" y="0">m</text></g></g></svg></body></html>
